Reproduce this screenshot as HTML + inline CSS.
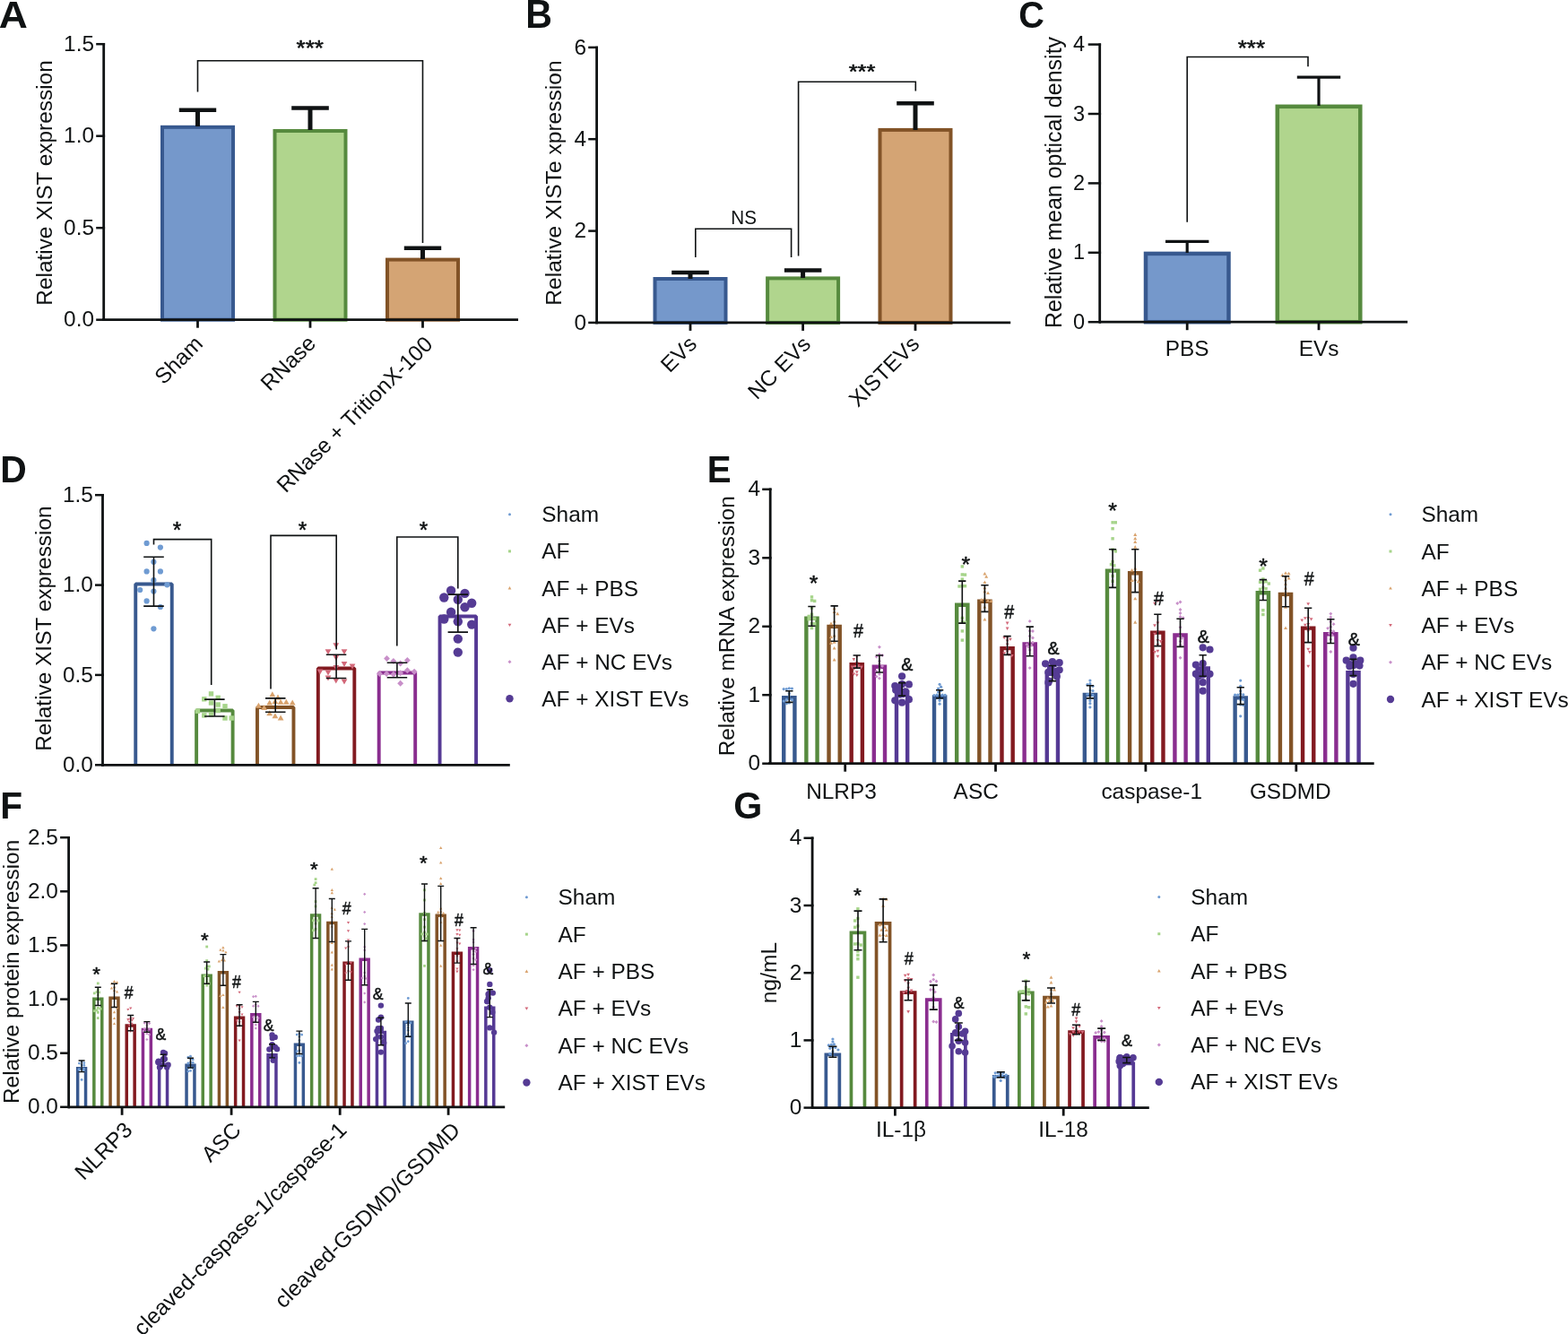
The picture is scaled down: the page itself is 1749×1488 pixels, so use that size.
<!DOCTYPE html>
<html><head><meta charset="utf-8"><style>
html,body{margin:0;padding:0;background:#fff;}
svg{display:block;}
text{font-family:'Liberation Sans', Arial, sans-serif;font-size:24.4px;fill:#0f1213}
</style></head><body>
<svg width="1749" height="1488" viewBox="0 0 1749 1488">
<rect width="1749" height="1488" fill="#fff"/>
<text x="0" y="0" font-weight="bold" style="font-size:43.15px" transform="translate(-1.14 30.80) scale(1.031 1)">A</text>
<line x1="115.7" y1="48.0" x2="115.7" y2="358.1" stroke="#0f1213" stroke-width="2.8"/>
<line x1="107.2" y1="49.2" x2="117.1" y2="49.2" stroke="#0f1213" stroke-width="2.5"/>
<text x="105.0" y="56.8" text-anchor="end">1.5</text>
<line x1="107.2" y1="151.7" x2="117.1" y2="151.7" stroke="#0f1213" stroke-width="2.5"/>
<text x="105.0" y="159.3" text-anchor="end">1.0</text>
<line x1="107.2" y1="254.2" x2="117.1" y2="254.2" stroke="#0f1213" stroke-width="2.5"/>
<text x="105.0" y="261.8" text-anchor="end">0.5</text>
<line x1="107.2" y1="356.7" x2="117.1" y2="356.7" stroke="#0f1213" stroke-width="2.5"/>
<text x="105.0" y="364.3" text-anchor="end">0.0</text>
<text x="57.7" y="204.0" text-anchor="middle" transform="rotate(-90 57.7 204.0)">Relative XIST expression</text>
<rect x="181.0" y="141.8" width="79.0" height="214.9" fill="#7598CB" stroke="#38598F" stroke-width="4"/>
<rect x="306.5" y="146.0" width="79.0" height="210.7" fill="#B0D58D" stroke="#568A3E" stroke-width="4"/>
<rect x="432.0" y="289.6" width="79.0" height="67.1" fill="#D4A474" stroke="#825327" stroke-width="4"/>
<line x1="220.5" y1="141.0" x2="220.5" y2="122.8" stroke="#0f1213" stroke-width="5"/>
<line x1="199.8" y1="122.8" x2="241.2" y2="122.8" stroke="#0f1213" stroke-width="4.5"/>
<line x1="346.0" y1="145.0" x2="346.0" y2="120.4" stroke="#0f1213" stroke-width="5"/>
<line x1="325.2" y1="120.4" x2="366.8" y2="120.4" stroke="#0f1213" stroke-width="4.5"/>
<line x1="471.5" y1="289.0" x2="471.5" y2="276.8" stroke="#0f1213" stroke-width="5"/>
<line x1="450.8" y1="276.8" x2="492.2" y2="276.8" stroke="#0f1213" stroke-width="4.5"/>
<line x1="114.0" y1="356.7" x2="578.0" y2="356.7" stroke="#0f1213" stroke-width="2.8"/>
<line x1="220.5" y1="356.7" x2="220.5" y2="365.7" stroke="#0f1213" stroke-width="2.8"/>
<line x1="346.0" y1="356.7" x2="346.0" y2="365.7" stroke="#0f1213" stroke-width="2.8"/>
<line x1="471.5" y1="356.7" x2="471.5" y2="365.7" stroke="#0f1213" stroke-width="2.8"/>
<path d="M220.5 102.5 V67.7 H471.5 V271.0" stroke="#0f1213" stroke-width="1.6" fill="none"/>
<text x="0" y="0" stroke="#0f1213" stroke-width="0.6" stroke-linejoin="round" style="font-size:23.65px" transform="translate(330.58 62.37) scale(1.103 1)">***</text>
<text x="227.5" y="385.0" text-anchor="end" transform="rotate(-45 227.5 385.0)">Sham</text>
<text x="353.5" y="384.5" text-anchor="end" transform="rotate(-45 353.5 384.5)">RNase</text>
<text x="484.0" y="385.5" text-anchor="end" transform="rotate(-45 484.0 385.5)">RNase + TritionX-100</text>
<text x="0" y="0" font-weight="bold" style="font-size:43.44px" transform="translate(586.23 30.90) scale(0.945 1)">B</text>
<line x1="665.6" y1="51.7" x2="665.6" y2="361.3" stroke="#0f1213" stroke-width="2.8"/>
<line x1="656.2" y1="52.9" x2="667.0" y2="52.9" stroke="#0f1213" stroke-width="2.5"/>
<text x="654.0" y="60.5" text-anchor="end">6</text>
<line x1="656.2" y1="155.2" x2="667.0" y2="155.2" stroke="#0f1213" stroke-width="2.5"/>
<text x="654.0" y="162.8" text-anchor="end">4</text>
<line x1="656.2" y1="257.6" x2="667.0" y2="257.6" stroke="#0f1213" stroke-width="2.5"/>
<text x="654.0" y="265.2" text-anchor="end">2</text>
<line x1="656.2" y1="359.9" x2="667.0" y2="359.9" stroke="#0f1213" stroke-width="2.5"/>
<text x="654.0" y="367.5" text-anchor="end">0</text>
<text x="625.8" y="204.0" text-anchor="middle" style="font-size:24.6px" transform="rotate(-90 625.8 204.0)">Relative XISTe xpression</text>
<rect x="730.5" y="311.0" width="79.0" height="48.9" fill="#7598CB" stroke="#38598F" stroke-width="4"/>
<rect x="856.1" y="310.4" width="79.0" height="49.5" fill="#B0D58D" stroke="#568A3E" stroke-width="4"/>
<rect x="981.5" y="144.9" width="79.0" height="215.0" fill="#D4A474" stroke="#825327" stroke-width="4"/>
<line x1="770.0" y1="311.0" x2="770.0" y2="303.9" stroke="#0f1213" stroke-width="5"/>
<line x1="749.2" y1="303.9" x2="790.8" y2="303.9" stroke="#0f1213" stroke-width="4.5"/>
<line x1="895.6" y1="310.0" x2="895.6" y2="301.6" stroke="#0f1213" stroke-width="5"/>
<line x1="874.9" y1="301.6" x2="916.4" y2="301.6" stroke="#0f1213" stroke-width="4.5"/>
<line x1="1021.0" y1="145.0" x2="1021.0" y2="115.2" stroke="#0f1213" stroke-width="5"/>
<line x1="1000.2" y1="115.2" x2="1041.8" y2="115.2" stroke="#0f1213" stroke-width="4.5"/>
<line x1="664.0" y1="359.9" x2="1127.2" y2="359.9" stroke="#0f1213" stroke-width="2.8"/>
<line x1="770.0" y1="359.9" x2="770.0" y2="368.9" stroke="#0f1213" stroke-width="2.8"/>
<line x1="895.6" y1="359.9" x2="895.6" y2="368.9" stroke="#0f1213" stroke-width="2.8"/>
<line x1="1021.0" y1="359.9" x2="1021.0" y2="368.9" stroke="#0f1213" stroke-width="2.8"/>
<path d="M775.8 287.0 V255.2 H882.6 V287.0" stroke="#0f1213" stroke-width="1.6" fill="none"/>
<text x="0" y="0" style="font-size:22.03px" transform="translate(815.31 249.98) scale(0.936 1)">NS</text>
<path d="M890.6 285.5 V91.3 H1021.3 V101.6" stroke="#0f1213" stroke-width="1.6" fill="none"/>
<text x="0" y="0" stroke="#0f1213" stroke-width="0.6" stroke-linejoin="round" style="font-size:22.79px" transform="translate(946.69 87.38) scale(1.121 1)">***</text>
<text x="778.7" y="385.2" text-anchor="end" transform="rotate(-45 778.7 385.2)">EVs</text>
<text x="905.6" y="385.3" text-anchor="end" transform="rotate(-45 905.6 385.3)">NC EVs</text>
<text x="1027.0" y="385.2" text-anchor="end" transform="rotate(-45 1027.0 385.2)">XISTEVs</text>
<text x="0" y="0" font-weight="bold" style="font-size:43.28px" transform="translate(1136.34 30.80) scale(0.916 1)">C</text>
<line x1="1226.7" y1="48.4" x2="1226.7" y2="360.6" stroke="#0f1213" stroke-width="2.8"/>
<line x1="1213.7" y1="49.6" x2="1228.1" y2="49.6" stroke="#0f1213" stroke-width="2.5"/>
<text x="1210.2" y="57.2" text-anchor="end" style="font-size:23.5px">4</text>
<line x1="1213.7" y1="127.0" x2="1228.1" y2="127.0" stroke="#0f1213" stroke-width="2.5"/>
<text x="1210.2" y="134.6" text-anchor="end" style="font-size:23.5px">3</text>
<line x1="1213.7" y1="204.4" x2="1228.1" y2="204.4" stroke="#0f1213" stroke-width="2.5"/>
<text x="1210.2" y="212.0" text-anchor="end" style="font-size:23.5px">2</text>
<line x1="1213.7" y1="281.8" x2="1228.1" y2="281.8" stroke="#0f1213" stroke-width="2.5"/>
<text x="1210.2" y="289.4" text-anchor="end" style="font-size:23.5px">1</text>
<line x1="1213.7" y1="359.2" x2="1228.1" y2="359.2" stroke="#0f1213" stroke-width="2.5"/>
<text x="1210.2" y="366.8" text-anchor="end" style="font-size:23.5px">0</text>
<text x="1183.5" y="203.5" text-anchor="middle" style="font-size:25px" transform="rotate(-90 1183.5 203.5)">Relative mean optical density</text>
<rect x="1278.0" y="282.9" width="92.5" height="76.3" fill="#7598CB" stroke="#38598F" stroke-width="4.5"/>
<rect x="1424.8" y="118.8" width="92.5" height="240.4" fill="#B0D58D" stroke="#568A3E" stroke-width="4.5"/>
<line x1="1324.2" y1="282.0" x2="1324.2" y2="269.4" stroke="#0f1213" stroke-width="3.2"/>
<line x1="1300.0" y1="269.4" x2="1348.4" y2="269.4" stroke="#0f1213" stroke-width="3.2"/>
<line x1="1471.0" y1="118.0" x2="1471.0" y2="86.1" stroke="#0f1213" stroke-width="3.2"/>
<line x1="1446.8" y1="86.1" x2="1495.2" y2="86.1" stroke="#0f1213" stroke-width="3.2"/>
<line x1="1226.0" y1="359.2" x2="1570.0" y2="359.2" stroke="#0f1213" stroke-width="2.8"/>
<line x1="1324.2" y1="359.2" x2="1324.2" y2="368.2" stroke="#0f1213" stroke-width="2.8"/>
<line x1="1471.0" y1="359.2" x2="1471.0" y2="368.2" stroke="#0f1213" stroke-width="2.8"/>
<path d="M1324.2 247.7 V63.5 H1459.0 V74.2" stroke="#0f1213" stroke-width="1.6" fill="none"/>
<text x="0" y="0" stroke="#0f1213" stroke-width="0.6" stroke-linejoin="round" style="font-size:23.93px" transform="translate(1380.68 61.76) scale(1.090 1)">***</text>
<text x="1324.2" y="397.0" text-anchor="middle">PBS</text>
<text x="1471.0" y="397.0" text-anchor="middle">EVs</text>
<text x="0" y="0" font-weight="bold" style="font-size:42.85px" transform="translate(0.24 537.80) scale(0.954 1)">D</text>
<line x1="114.5" y1="551.0" x2="114.5" y2="854.7" stroke="#0f1213" stroke-width="2.8"/>
<line x1="106.0" y1="552.2" x2="115.9" y2="552.2" stroke="#0f1213" stroke-width="2.5"/>
<text x="103.8" y="559.8" text-anchor="end">1.5</text>
<line x1="106.0" y1="652.6" x2="115.9" y2="652.6" stroke="#0f1213" stroke-width="2.5"/>
<text x="103.8" y="660.2" text-anchor="end">1.0</text>
<line x1="106.0" y1="752.9" x2="115.9" y2="752.9" stroke="#0f1213" stroke-width="2.5"/>
<text x="103.8" y="760.5" text-anchor="end">0.5</text>
<line x1="106.0" y1="853.3" x2="115.9" y2="853.3" stroke="#0f1213" stroke-width="2.5"/>
<text x="103.8" y="860.9" text-anchor="end">0.0</text>
<text x="57.4" y="701.1" text-anchor="middle" transform="rotate(-90 57.4 701.1)">Relative XIST expression</text>
<path d="M151.25 853.3V651.45H191.75V853.3" stroke="#38598F" stroke-width="3.9" fill="none" stroke-linejoin="bevel"/>
<path d="M219.11 853.3V792.55H259.61V853.3" stroke="#568A3E" stroke-width="3.9" fill="none" stroke-linejoin="bevel"/>
<path d="M286.97 853.3V788.95H327.47V853.3" stroke="#825327" stroke-width="3.9" fill="none" stroke-linejoin="bevel"/>
<path d="M354.83 853.3V745.45H395.33V853.3" stroke="#821A20" stroke-width="3.9" fill="none" stroke-linejoin="bevel"/>
<path d="M422.69 853.3V750.45H463.19V853.3" stroke="#8A2D8F" stroke-width="3.9" fill="none" stroke-linejoin="bevel"/>
<path d="M490.55 853.3V687.45H531.05V853.3" stroke="#553994" stroke-width="3.9" fill="none" stroke-linejoin="bevel"/>
<circle cx="163.6" cy="605.9" r="3.10" fill="#6F9BD2"/>
<circle cx="178.9" cy="610.6" r="3.10" fill="#6F9BD2"/>
<circle cx="171.4" cy="626.8" r="3.10" fill="#6F9BD2"/>
<circle cx="163.6" cy="637.4" r="3.10" fill="#6F9BD2"/>
<circle cx="178.9" cy="637.4" r="3.10" fill="#6F9BD2"/>
<circle cx="171.4" cy="647.2" r="3.10" fill="#6F9BD2"/>
<circle cx="186.4" cy="652.3" r="3.10" fill="#6F9BD2"/>
<circle cx="156.2" cy="658.0" r="3.10" fill="#6F9BD2"/>
<circle cx="171.4" cy="659.6" r="3.10" fill="#6F9BD2"/>
<circle cx="163.6" cy="670.4" r="3.10" fill="#6F9BD2"/>
<circle cx="178.9" cy="677.0" r="3.10" fill="#6F9BD2"/>
<circle cx="171.4" cy="701.3" r="3.10" fill="#6F9BD2"/>
<rect x="232.8" y="771.2" width="5.4" height="5.4" fill="#A6D48A"/>
<rect x="225.1" y="777.1" width="5.4" height="5.4" fill="#A6D48A"/>
<rect x="240.5" y="775.6" width="5.4" height="5.4" fill="#A6D48A"/>
<rect x="232.8" y="781.3" width="5.4" height="5.4" fill="#A6D48A"/>
<rect x="240.5" y="783.3" width="5.4" height="5.4" fill="#A6D48A"/>
<rect x="248.3" y="785.1" width="5.4" height="5.4" fill="#A6D48A"/>
<rect x="217.7" y="790.5" width="5.4" height="5.4" fill="#A6D48A"/>
<rect x="240.5" y="789.8" width="5.4" height="5.4" fill="#A6D48A"/>
<rect x="225.1" y="795.2" width="5.4" height="5.4" fill="#A6D48A"/>
<rect x="232.8" y="794.4" width="5.4" height="5.4" fill="#A6D48A"/>
<rect x="248.3" y="798.3" width="5.4" height="5.4" fill="#A6D48A"/>
<rect x="255.5" y="798.3" width="5.4" height="5.4" fill="#A6D48A"/>
<path d="M303.8 771.3L307.2 777.3L300.4 777.3Z" fill="#D9A36E"/>
<path d="M310.0 774.4L313.4 780.4L306.6 780.4Z" fill="#D9A36E"/>
<path d="M300.7 780.6L304.1 786.6L297.3 786.6Z" fill="#D9A36E"/>
<path d="M306.9 779.0L310.3 785.0L303.5 785.0Z" fill="#D9A36E"/>
<path d="M313.1 779.8L316.5 785.8L309.7 785.8Z" fill="#D9A36E"/>
<path d="M319.3 779.8L322.7 785.8L315.9 785.8Z" fill="#D9A36E"/>
<path d="M326.2 780.6L329.6 786.6L322.8 786.6Z" fill="#D9A36E"/>
<path d="M288.4 783.7L291.8 789.7L285.0 789.7Z" fill="#D9A36E"/>
<path d="M294.6 786.0L298.0 792.0L291.2 792.0Z" fill="#D9A36E"/>
<path d="M300.7 792.2L304.1 798.2L297.3 798.2Z" fill="#D9A36E"/>
<path d="M306.9 795.2L310.3 801.2L303.5 801.2Z" fill="#D9A36E"/>
<path d="M313.1 797.6L316.5 803.6L309.7 803.6Z" fill="#D9A36E"/>
<path d="M374.8 723.2L378.2 717.2L371.4 717.2Z" fill="#D3697A"/>
<path d="M366.0 730.2L369.4 724.2L362.6 724.2Z" fill="#D3697A"/>
<path d="M384.0 730.2L387.4 724.2L380.6 724.2Z" fill="#D3697A"/>
<path d="M374.8 737.1L378.2 731.1L371.4 731.1Z" fill="#D3697A"/>
<path d="M384.0 744.1L387.4 738.1L380.6 738.1Z" fill="#D3697A"/>
<path d="M393.0 746.4L396.4 740.4L389.6 740.4Z" fill="#D3697A"/>
<path d="M357.0 752.6L360.4 746.6L353.6 746.6Z" fill="#D3697A"/>
<path d="M366.0 753.4L369.4 747.4L362.6 747.4Z" fill="#D3697A"/>
<path d="M374.8 748.0L378.2 742.0L371.4 742.0Z" fill="#D3697A"/>
<path d="M366.0 759.6L369.4 753.6L362.6 753.6Z" fill="#D3697A"/>
<path d="M374.8 762.6L378.2 756.6L371.4 756.6Z" fill="#D3697A"/>
<path d="M384.0 763.4L387.4 757.4L380.6 757.4Z" fill="#D3697A"/>
<path d="M431.5 731.0L434.9 734.5L431.5 738.0L428.1 734.5Z" fill="#C88FC9"/>
<path d="M438.9 734.1L442.3 737.6L438.9 741.1L435.4 737.6Z" fill="#C88FC9"/>
<path d="M446.6 736.5L450.1 740.0L446.6 743.5L443.2 740.0Z" fill="#C88FC9"/>
<path d="M454.4 733.0L457.8 736.5L454.4 740.0L450.9 736.5Z" fill="#C88FC9"/>
<path d="M423.5 748.0L426.9 751.5L423.5 755.0L420.1 751.5Z" fill="#C88FC9"/>
<path d="M431.2 748.0L434.6 751.5L431.2 755.0L427.8 751.5Z" fill="#C88FC9"/>
<path d="M438.9 748.8L442.3 752.3L438.9 755.8L435.4 752.3Z" fill="#C88FC9"/>
<path d="M446.6 747.2L450.1 750.7L446.6 754.2L443.2 750.7Z" fill="#C88FC9"/>
<path d="M454.4 744.2L457.8 747.7L454.4 751.2L450.9 747.7Z" fill="#C88FC9"/>
<path d="M462.1 745.8L465.6 749.2L462.1 752.7L458.7 749.2Z" fill="#C88FC9"/>
<path d="M446.6 758.8L450.1 762.3L446.6 765.8L443.2 762.3Z" fill="#C88FC9"/>
<circle cx="503.1" cy="658.8" r="5.20" fill="#553B94"/>
<circle cx="518.5" cy="661.9" r="5.20" fill="#553B94"/>
<circle cx="495.3" cy="666.5" r="5.20" fill="#553B94"/>
<circle cx="510.8" cy="668.8" r="5.20" fill="#553B94"/>
<circle cx="526.2" cy="672.7" r="5.20" fill="#553B94"/>
<circle cx="518.5" cy="677.3" r="5.20" fill="#553B94"/>
<circle cx="503.1" cy="682.7" r="5.20" fill="#553B94"/>
<circle cx="495.3" cy="690.5" r="5.20" fill="#553B94"/>
<circle cx="510.8" cy="693.2" r="5.20" fill="#553B94"/>
<circle cx="526.2" cy="696.6" r="5.20" fill="#553B94"/>
<circle cx="510.8" cy="712.6" r="5.20" fill="#553B94"/>
<circle cx="510.8" cy="727.6" r="5.20" fill="#553B94"/>
<path d="M171.5 621.2V676.1M160.2 621.2H182.8M160.2 676.1H182.8" stroke="#0f1213" stroke-width="1.6" fill="none"/>
<path d="M239.4 780.1V799.0M228.1 780.1H250.6M228.1 799.0H250.6" stroke="#0f1213" stroke-width="1.6" fill="none"/>
<path d="M307.2 778.9V794.3M296.0 778.9H318.5M296.0 794.3H318.5" stroke="#0f1213" stroke-width="1.6" fill="none"/>
<path d="M375.1 730.2V756.5M363.8 730.2H386.3M363.8 756.5H386.3" stroke="#0f1213" stroke-width="1.6" fill="none"/>
<path d="M442.9 739.2V755.8M431.7 739.2H454.2M431.7 755.8H454.2" stroke="#0f1213" stroke-width="1.6" fill="none"/>
<path d="M510.8 663.1V705.1M499.6 663.1H522.0M499.6 705.1H522.0" stroke="#0f1213" stroke-width="1.6" fill="none"/>
<line x1="113.0" y1="853.3" x2="568.8" y2="853.3" stroke="#0f1213" stroke-width="2.8"/>
<path d="M171.5 607.5 V601.6 H235.7 V764.0" stroke="#0f1213" stroke-width="1.6" fill="none"/>
<path d="M302.0 768.5 V597.4 H375.2 V724.5" stroke="#0f1213" stroke-width="1.6" fill="none"/>
<path d="M442.8 720.6 V599.0 H510.8 V656.5" stroke="#0f1213" stroke-width="1.6" fill="none"/>
<text x="0" y="0" stroke="#0f1213" stroke-width="0.5" stroke-linejoin="round" style="font-size:25.36px" transform="translate(192.66 599.60) scale(0.961 1)">*</text>
<text x="0" y="0" stroke="#0f1213" stroke-width="0.5" stroke-linejoin="round" style="font-size:25.36px" transform="translate(332.66 599.60) scale(0.961 1)">*</text>
<text x="0" y="0" stroke="#0f1213" stroke-width="0.5" stroke-linejoin="round" style="font-size:25.36px" transform="translate(467.66 599.60) scale(0.961 1)">*</text>
<circle cx="568.5" cy="573.8" r="1.50" fill="#6F9BD2"/>
<text x="604.3" y="582.3">Sham</text>
<rect x="567.0" y="613.4" width="3.0" height="3.0" fill="#A6D48A"/>
<text x="604.3" y="623.4">AF</text>
<path d="M568.5 654.1L570.4 657.4L566.6 657.4Z" fill="#D9A36E"/>
<text x="604.3" y="664.5">AF + PBS</text>
<path d="M568.5 699.0L570.4 695.7L566.6 695.7Z" fill="#D3697A"/>
<text x="604.3" y="705.6">AF + EVs</text>
<path d="M568.5 736.2L570.5 738.2L568.5 740.2L566.5 738.2Z" fill="#C88FC9"/>
<text x="604.3" y="746.7">AF + NC EVs</text>
<circle cx="568.5" cy="779.3" r="4.20" fill="#553B94"/>
<text x="604.3" y="787.8">AF + XIST EVs</text>
<text x="0" y="0" font-weight="bold" style="font-size:42.85px" transform="translate(788.68 538.00) scale(0.941 1)">E</text>
<line x1="859.2" y1="544.6" x2="859.2" y2="853.1" stroke="#0f1213" stroke-width="2.8"/>
<line x1="850.2" y1="545.8" x2="860.6" y2="545.8" stroke="#0f1213" stroke-width="2.5"/>
<text x="848.0" y="553.4" text-anchor="end">4</text>
<line x1="850.2" y1="622.3" x2="860.6" y2="622.3" stroke="#0f1213" stroke-width="2.5"/>
<text x="848.0" y="629.9" text-anchor="end">3</text>
<line x1="850.2" y1="698.8" x2="860.6" y2="698.8" stroke="#0f1213" stroke-width="2.5"/>
<text x="848.0" y="706.4" text-anchor="end">2</text>
<line x1="850.2" y1="775.2" x2="860.6" y2="775.2" stroke="#0f1213" stroke-width="2.5"/>
<text x="848.0" y="782.8" text-anchor="end">1</text>
<line x1="850.2" y1="851.7" x2="860.6" y2="851.7" stroke="#0f1213" stroke-width="2.5"/>
<text x="848.0" y="859.3" text-anchor="end">0</text>
<text x="819.4" y="698.3" text-anchor="middle" transform="rotate(-90 819.4 698.3)">Relative mRNA expression</text>
<path d="M874.23 851.7V778.30H886.42V851.7" stroke="#38598F" stroke-width="4.4" fill="none" stroke-linejoin="miter"/>
<path d="M899.38 851.7V689.60H911.57V851.7" stroke="#568A3E" stroke-width="4.4" fill="none" stroke-linejoin="miter"/>
<path d="M924.53 851.7V698.90H936.72V851.7" stroke="#825327" stroke-width="4.4" fill="none" stroke-linejoin="miter"/>
<path d="M949.68 851.7V741.20H961.88V851.7" stroke="#821A20" stroke-width="4.4" fill="none" stroke-linejoin="miter"/>
<path d="M974.83 851.7V743.70H987.02V851.7" stroke="#8A2D8F" stroke-width="4.4" fill="none" stroke-linejoin="miter"/>
<path d="M999.98 851.7V771.90H1012.17V851.7" stroke="#553994" stroke-width="4.4" fill="none" stroke-linejoin="miter"/>
<path d="M1042.03 851.7V777.50H1054.22V851.7" stroke="#38598F" stroke-width="4.4" fill="none" stroke-linejoin="miter"/>
<path d="M1067.18 851.7V674.70H1079.38V851.7" stroke="#568A3E" stroke-width="4.4" fill="none" stroke-linejoin="miter"/>
<path d="M1092.33 851.7V670.70H1104.52V851.7" stroke="#825327" stroke-width="4.4" fill="none" stroke-linejoin="miter"/>
<path d="M1117.48 851.7V723.10H1129.67V851.7" stroke="#821A20" stroke-width="4.4" fill="none" stroke-linejoin="miter"/>
<path d="M1142.62 851.7V718.50H1154.82V851.7" stroke="#8A2D8F" stroke-width="4.4" fill="none" stroke-linejoin="miter"/>
<path d="M1167.78 851.7V751.70H1179.97V851.7" stroke="#553994" stroke-width="4.4" fill="none" stroke-linejoin="miter"/>
<path d="M1209.83 851.7V774.90H1222.02V851.7" stroke="#38598F" stroke-width="4.4" fill="none" stroke-linejoin="miter"/>
<path d="M1234.98 851.7V636.60H1247.17V851.7" stroke="#568A3E" stroke-width="4.4" fill="none" stroke-linejoin="miter"/>
<path d="M1260.12 851.7V639.30H1272.32V851.7" stroke="#825327" stroke-width="4.4" fill="none" stroke-linejoin="miter"/>
<path d="M1285.28 851.7V705.60H1297.47V851.7" stroke="#821A20" stroke-width="4.4" fill="none" stroke-linejoin="miter"/>
<path d="M1310.42 851.7V708.50H1322.62V851.7" stroke="#8A2D8F" stroke-width="4.4" fill="none" stroke-linejoin="miter"/>
<path d="M1335.58 851.7V745.50H1347.77V851.7" stroke="#553994" stroke-width="4.4" fill="none" stroke-linejoin="miter"/>
<path d="M1377.62 851.7V778.40H1389.82V851.7" stroke="#38598F" stroke-width="4.4" fill="none" stroke-linejoin="miter"/>
<path d="M1402.78 851.7V661.30H1414.97V851.7" stroke="#568A3E" stroke-width="4.4" fill="none" stroke-linejoin="miter"/>
<path d="M1427.92 851.7V662.90H1440.12V851.7" stroke="#825327" stroke-width="4.4" fill="none" stroke-linejoin="miter"/>
<path d="M1453.08 851.7V700.60H1465.27V851.7" stroke="#821A20" stroke-width="4.4" fill="none" stroke-linejoin="miter"/>
<path d="M1478.22 851.7V707.20H1490.42V851.7" stroke="#8A2D8F" stroke-width="4.4" fill="none" stroke-linejoin="miter"/>
<path d="M1503.38 851.7V750.20H1515.57V851.7" stroke="#553994" stroke-width="4.4" fill="none" stroke-linejoin="miter"/>
<circle cx="880.3" cy="767.8" r="1.60" fill="#6F9BD2"/>
<circle cx="883.4" cy="768.0" r="1.60" fill="#6F9BD2"/>
<circle cx="877.3" cy="768.5" r="1.60" fill="#6F9BD2"/>
<circle cx="874.2" cy="768.6" r="1.60" fill="#6F9BD2"/>
<circle cx="880.3" cy="773.5" r="1.60" fill="#6F9BD2"/>
<circle cx="880.3" cy="776.6" r="1.60" fill="#6F9BD2"/>
<circle cx="880.3" cy="779.7" r="1.60" fill="#6F9BD2"/>
<circle cx="883.4" cy="780.4" r="1.60" fill="#6F9BD2"/>
<circle cx="877.3" cy="780.4" r="1.60" fill="#6F9BD2"/>
<circle cx="874.2" cy="782.0" r="1.60" fill="#6F9BD2"/>
<circle cx="880.3" cy="784.0" r="1.60" fill="#6F9BD2"/>
<circle cx="877.3" cy="784.7" r="1.60" fill="#6F9BD2"/>
<rect x="903.8" y="664.2" width="3.4" height="3.4" fill="#A6D48A"/>
<rect x="903.8" y="668.0" width="3.4" height="3.4" fill="#A6D48A"/>
<rect x="907.0" y="668.7" width="3.4" height="3.4" fill="#A6D48A"/>
<rect x="903.8" y="676.4" width="3.4" height="3.4" fill="#A6D48A"/>
<rect x="903.8" y="683.6" width="3.4" height="3.4" fill="#A6D48A"/>
<rect x="900.5" y="685.7" width="3.4" height="3.4" fill="#A6D48A"/>
<rect x="903.8" y="688.2" width="3.4" height="3.4" fill="#A6D48A"/>
<rect x="907.0" y="688.3" width="3.4" height="3.4" fill="#A6D48A"/>
<rect x="900.5" y="689.0" width="3.4" height="3.4" fill="#A6D48A"/>
<rect x="903.8" y="694.0" width="3.4" height="3.4" fill="#A6D48A"/>
<rect x="907.0" y="694.1" width="3.4" height="3.4" fill="#A6D48A"/>
<rect x="903.8" y="698.9" width="3.4" height="3.4" fill="#A6D48A"/>
<path d="M930.6 676.7L932.6 680.2L928.6 680.2Z" fill="#D9A36E"/>
<path d="M930.6 680.5L932.6 684.1L928.6 684.1Z" fill="#D9A36E"/>
<path d="M934.2 682.6L936.2 686.2L932.2 686.2Z" fill="#D9A36E"/>
<path d="M930.6 690.9L932.6 694.4L928.6 694.4Z" fill="#D9A36E"/>
<path d="M927.0 693.6L929.0 697.1L925.0 697.1Z" fill="#D9A36E"/>
<path d="M930.6 696.6L932.6 700.1L928.6 700.1Z" fill="#D9A36E"/>
<path d="M930.6 707.0L932.6 710.6L928.6 710.6Z" fill="#D9A36E"/>
<path d="M927.0 708.4L929.0 711.9L925.0 711.9Z" fill="#D9A36E"/>
<path d="M930.6 714.1L932.6 717.7L928.6 717.7Z" fill="#D9A36E"/>
<path d="M927.0 715.1L929.0 718.7L925.0 718.7Z" fill="#D9A36E"/>
<path d="M930.6 720.9L932.6 724.4L928.6 724.4Z" fill="#D9A36E"/>
<path d="M930.6 734.0L932.6 737.5L928.6 737.5Z" fill="#D9A36E"/>
<path d="M955.8 734.6L957.7 731.2L953.9 731.2Z" fill="#D3697A"/>
<path d="M952.4 737.4L954.2 734.1L950.5 734.1Z" fill="#D3697A"/>
<path d="M955.8 741.4L957.7 738.0L953.9 738.0Z" fill="#D3697A"/>
<path d="M957.5 744.5L959.4 741.2L955.6 741.2Z" fill="#D3697A"/>
<path d="M954.1 745.4L956.0 742.0L952.2 742.0Z" fill="#D3697A"/>
<path d="M960.9 745.9L962.8 742.6L959.0 742.6Z" fill="#D3697A"/>
<path d="M950.6 746.0L952.5 742.6L948.8 742.6Z" fill="#D3697A"/>
<path d="M959.8 747.5L961.6 744.2L957.9 744.2Z" fill="#D3697A"/>
<path d="M952.8 748.1L954.7 744.8L950.9 744.8Z" fill="#D3697A"/>
<path d="M955.8 751.7L957.7 748.3L953.9 748.3Z" fill="#D3697A"/>
<path d="M952.4 753.7L954.2 750.4L950.5 750.4Z" fill="#D3697A"/>
<path d="M955.8 755.1L957.7 751.8L953.9 751.8Z" fill="#D3697A"/>
<path d="M980.9 719.8L982.9 721.8L980.9 723.7L979.0 721.8Z" fill="#C88FC9"/>
<path d="M980.9 728.1L982.9 730.0L980.9 732.0L979.0 730.0Z" fill="#C88FC9"/>
<path d="M984.2 729.1L986.1 731.0L984.2 733.0L982.2 731.0Z" fill="#C88FC9"/>
<path d="M977.7 730.6L979.7 732.6L977.7 734.5L975.7 732.6Z" fill="#C88FC9"/>
<path d="M980.9 735.5L982.9 737.4L980.9 739.4L979.0 737.4Z" fill="#C88FC9"/>
<path d="M980.9 739.2L982.9 741.1L980.9 743.1L979.0 741.1Z" fill="#C88FC9"/>
<path d="M984.2 741.0L986.1 743.0L984.2 744.9L982.2 743.0Z" fill="#C88FC9"/>
<path d="M980.9 744.1L982.9 746.0L980.9 748.0L979.0 746.0Z" fill="#C88FC9"/>
<path d="M977.7 746.8L979.7 748.8L977.7 750.7L975.7 748.8Z" fill="#C88FC9"/>
<path d="M980.9 750.2L982.9 752.1L980.9 754.1L979.0 752.1Z" fill="#C88FC9"/>
<path d="M977.7 752.7L979.7 754.7L977.7 756.6L975.7 754.7Z" fill="#C88FC9"/>
<path d="M980.9 754.7L982.9 756.7L980.9 758.6L979.0 756.7Z" fill="#C88FC9"/>
<circle cx="1006.1" cy="754.3" r="4.10" fill="#553B94"/>
<circle cx="1006.1" cy="763.2" r="4.10" fill="#553B94"/>
<circle cx="1013.9" cy="763.4" r="4.10" fill="#553B94"/>
<circle cx="998.3" cy="765.1" r="4.10" fill="#553B94"/>
<circle cx="1002.5" cy="768.2" r="4.10" fill="#553B94"/>
<circle cx="999.2" cy="769.8" r="4.10" fill="#553B94"/>
<circle cx="1010.0" cy="771.3" r="4.10" fill="#553B94"/>
<circle cx="1007.2" cy="774.1" r="4.10" fill="#553B94"/>
<circle cx="1003.9" cy="774.6" r="4.10" fill="#553B94"/>
<circle cx="1013.9" cy="780.2" r="4.10" fill="#553B94"/>
<circle cx="998.3" cy="781.3" r="4.10" fill="#553B94"/>
<circle cx="1006.1" cy="783.7" r="4.10" fill="#553B94"/>
<circle cx="1048.1" cy="763.3" r="1.60" fill="#6F9BD2"/>
<circle cx="1049.6" cy="766.2" r="1.60" fill="#6F9BD2"/>
<circle cx="1046.6" cy="768.1" r="1.60" fill="#6F9BD2"/>
<circle cx="1049.6" cy="770.4" r="1.60" fill="#6F9BD2"/>
<circle cx="1046.6" cy="771.9" r="1.60" fill="#6F9BD2"/>
<circle cx="1048.1" cy="775.1" r="1.60" fill="#6F9BD2"/>
<circle cx="1051.2" cy="775.2" r="1.60" fill="#6F9BD2"/>
<circle cx="1045.1" cy="775.2" r="1.60" fill="#6F9BD2"/>
<circle cx="1054.2" cy="775.3" r="1.60" fill="#6F9BD2"/>
<circle cx="1042.0" cy="775.5" r="1.60" fill="#6F9BD2"/>
<circle cx="1048.1" cy="781.3" r="1.60" fill="#6F9BD2"/>
<circle cx="1048.1" cy="785.2" r="1.60" fill="#6F9BD2"/>
<rect x="1071.6" y="630.2" width="3.4" height="3.4" fill="#A6D48A"/>
<rect x="1071.6" y="639.2" width="3.4" height="3.4" fill="#A6D48A"/>
<rect x="1074.8" y="639.4" width="3.4" height="3.4" fill="#A6D48A"/>
<rect x="1071.6" y="644.4" width="3.4" height="3.4" fill="#A6D48A"/>
<rect x="1071.6" y="652.0" width="3.4" height="3.4" fill="#A6D48A"/>
<rect x="1074.8" y="652.0" width="3.4" height="3.4" fill="#A6D48A"/>
<rect x="1068.3" y="652.3" width="3.4" height="3.4" fill="#A6D48A"/>
<rect x="1071.6" y="687.7" width="3.4" height="3.4" fill="#A6D48A"/>
<rect x="1071.6" y="692.0" width="3.4" height="3.4" fill="#A6D48A"/>
<rect x="1074.8" y="692.6" width="3.4" height="3.4" fill="#A6D48A"/>
<rect x="1071.6" y="702.2" width="3.4" height="3.4" fill="#A6D48A"/>
<rect x="1071.6" y="712.4" width="3.4" height="3.4" fill="#A6D48A"/>
<path d="M1098.4 637.9L1100.4 641.4L1096.4 641.4Z" fill="#D9A36E"/>
<path d="M1100.2 641.3L1102.2 644.8L1098.2 644.8Z" fill="#D9A36E"/>
<path d="M1098.4 647.4L1100.4 650.9L1096.4 650.9Z" fill="#D9A36E"/>
<path d="M1098.4 653.8L1100.4 657.3L1096.4 657.3Z" fill="#D9A36E"/>
<path d="M1098.4 657.8L1100.4 661.3L1096.4 661.3Z" fill="#D9A36E"/>
<path d="M1102.0 659.4L1104.0 663.0L1100.0 663.0Z" fill="#D9A36E"/>
<path d="M1098.4 665.5L1100.4 669.0L1096.4 669.0Z" fill="#D9A36E"/>
<path d="M1094.8 667.0L1096.8 670.5L1092.8 670.5Z" fill="#D9A36E"/>
<path d="M1102.0 668.0L1104.0 671.5L1100.0 671.5Z" fill="#D9A36E"/>
<path d="M1105.6 668.5L1107.6 672.0L1103.7 672.0Z" fill="#D9A36E"/>
<path d="M1098.4 675.1L1100.4 678.6L1096.4 678.6Z" fill="#D9A36E"/>
<path d="M1098.4 688.9L1100.4 692.4L1096.4 692.4Z" fill="#D9A36E"/>
<path d="M1123.6 696.9L1125.5 693.6L1121.7 693.6Z" fill="#D3697A"/>
<path d="M1123.6 702.9L1125.5 699.6L1121.7 699.6Z" fill="#D3697A"/>
<path d="M1123.6 713.1L1125.5 709.8L1121.7 709.8Z" fill="#D3697A"/>
<path d="M1120.2 713.2L1122.0 709.9L1118.3 709.9Z" fill="#D3697A"/>
<path d="M1127.0 715.1L1128.9 711.8L1125.1 711.8Z" fill="#D3697A"/>
<path d="M1123.6 716.9L1125.5 713.6L1121.7 713.6Z" fill="#D3697A"/>
<path d="M1123.6 720.7L1125.5 717.4L1121.7 717.4Z" fill="#D3697A"/>
<path d="M1123.6 724.7L1125.5 721.4L1121.7 721.4Z" fill="#D3697A"/>
<path d="M1123.6 728.8L1125.5 725.4L1121.7 725.4Z" fill="#D3697A"/>
<path d="M1120.2 730.7L1122.0 727.3L1118.3 727.3Z" fill="#D3697A"/>
<path d="M1125.3 732.0L1127.2 728.7L1123.4 728.7Z" fill="#D3697A"/>
<path d="M1128.7 733.5L1130.6 730.1L1126.8 730.1Z" fill="#D3697A"/>
<path d="M1148.7 690.9L1150.7 692.9L1148.7 694.8L1146.8 692.9Z" fill="#C88FC9"/>
<path d="M1148.7 701.9L1150.7 703.8L1148.7 705.8L1146.8 703.8Z" fill="#C88FC9"/>
<path d="M1152.0 702.0L1153.9 703.9L1152.0 705.9L1150.0 703.9Z" fill="#C88FC9"/>
<path d="M1148.7 707.5L1150.7 709.4L1148.7 711.4L1146.8 709.4Z" fill="#C88FC9"/>
<path d="M1152.0 709.6L1153.9 711.6L1152.0 713.5L1150.0 711.6Z" fill="#C88FC9"/>
<path d="M1148.7 714.6L1150.7 716.6L1148.7 718.5L1146.8 716.6Z" fill="#C88FC9"/>
<path d="M1152.0 714.7L1153.9 716.6L1152.0 718.6L1150.0 716.6Z" fill="#C88FC9"/>
<path d="M1145.5 717.0L1147.4 719.0L1145.5 720.9L1143.5 719.0Z" fill="#C88FC9"/>
<path d="M1150.3 717.8L1152.3 719.8L1150.3 721.7L1148.4 719.8Z" fill="#C88FC9"/>
<path d="M1147.1 719.8L1149.1 721.8L1147.1 723.8L1145.2 721.8Z" fill="#C88FC9"/>
<path d="M1148.7 723.1L1150.7 725.1L1148.7 727.1L1146.8 725.1Z" fill="#C88FC9"/>
<path d="M1148.7 743.2L1150.7 745.1L1148.7 747.1L1146.8 745.1Z" fill="#C88FC9"/>
<circle cx="1173.9" cy="738.0" r="4.10" fill="#553B94"/>
<circle cx="1181.7" cy="739.2" r="4.10" fill="#553B94"/>
<circle cx="1166.1" cy="740.3" r="4.10" fill="#553B94"/>
<circle cx="1175.8" cy="740.6" r="4.10" fill="#553B94"/>
<circle cx="1172.0" cy="745.3" r="4.10" fill="#553B94"/>
<circle cx="1181.7" cy="747.3" r="4.10" fill="#553B94"/>
<circle cx="1178.5" cy="748.8" r="4.10" fill="#553B94"/>
<circle cx="1173.3" cy="749.7" r="4.10" fill="#553B94"/>
<circle cx="1169.3" cy="749.8" r="4.10" fill="#553B94"/>
<circle cx="1178.8" cy="754.4" r="4.10" fill="#553B94"/>
<circle cx="1170.0" cy="759.6" r="4.10" fill="#553B94"/>
<circle cx="1169.4" cy="761.4" r="4.10" fill="#553B94"/>
<circle cx="1215.9" cy="759.1" r="1.60" fill="#6F9BD2"/>
<circle cx="1215.9" cy="762.7" r="1.60" fill="#6F9BD2"/>
<circle cx="1212.9" cy="763.7" r="1.60" fill="#6F9BD2"/>
<circle cx="1219.0" cy="765.3" r="1.60" fill="#6F9BD2"/>
<circle cx="1215.9" cy="770.0" r="1.60" fill="#6F9BD2"/>
<circle cx="1219.0" cy="770.5" r="1.60" fill="#6F9BD2"/>
<circle cx="1215.9" cy="773.6" r="1.60" fill="#6F9BD2"/>
<circle cx="1212.9" cy="774.5" r="1.60" fill="#6F9BD2"/>
<circle cx="1219.0" cy="775.4" r="1.60" fill="#6F9BD2"/>
<circle cx="1215.9" cy="781.4" r="1.60" fill="#6F9BD2"/>
<circle cx="1215.9" cy="784.7" r="1.60" fill="#6F9BD2"/>
<circle cx="1215.9" cy="788.8" r="1.60" fill="#6F9BD2"/>
<rect x="1239.4" y="581.1" width="3.4" height="3.4" fill="#A6D48A"/>
<rect x="1242.6" y="581.1" width="3.4" height="3.4" fill="#A6D48A"/>
<rect x="1239.4" y="588.0" width="3.4" height="3.4" fill="#A6D48A"/>
<rect x="1239.4" y="599.1" width="3.4" height="3.4" fill="#A6D48A"/>
<rect x="1239.4" y="611.3" width="3.4" height="3.4" fill="#A6D48A"/>
<rect x="1242.6" y="613.2" width="3.4" height="3.4" fill="#A6D48A"/>
<rect x="1239.4" y="624.9" width="3.4" height="3.4" fill="#A6D48A"/>
<rect x="1237.8" y="627.9" width="3.4" height="3.4" fill="#A6D48A"/>
<rect x="1241.0" y="629.1" width="3.4" height="3.4" fill="#A6D48A"/>
<rect x="1239.4" y="635.0" width="3.4" height="3.4" fill="#A6D48A"/>
<rect x="1239.4" y="640.9" width="3.4" height="3.4" fill="#A6D48A"/>
<rect x="1239.4" y="646.6" width="3.4" height="3.4" fill="#A6D48A"/>
<path d="M1266.2 594.3L1268.2 597.9L1264.2 597.9Z" fill="#D9A36E"/>
<path d="M1266.2 598.7L1268.2 602.3L1264.2 602.3Z" fill="#D9A36E"/>
<path d="M1266.2 602.5L1268.2 606.0L1264.2 606.0Z" fill="#D9A36E"/>
<path d="M1266.2 608.1L1268.2 611.7L1264.2 611.7Z" fill="#D9A36E"/>
<path d="M1266.2 632.0L1268.2 635.5L1264.2 635.5Z" fill="#D9A36E"/>
<path d="M1262.6 633.9L1264.6 637.5L1260.6 637.5Z" fill="#D9A36E"/>
<path d="M1266.2 636.9L1268.2 640.4L1264.2 640.4Z" fill="#D9A36E"/>
<path d="M1266.2 644.6L1268.2 648.1L1264.2 648.1Z" fill="#D9A36E"/>
<path d="M1262.6 645.3L1264.6 648.9L1260.6 648.9Z" fill="#D9A36E"/>
<path d="M1269.8 646.7L1271.8 650.2L1267.8 650.2Z" fill="#D9A36E"/>
<path d="M1266.2 665.8L1268.2 669.3L1264.2 669.3Z" fill="#D9A36E"/>
<path d="M1266.2 692.1L1268.2 695.7L1264.2 695.7Z" fill="#D9A36E"/>
<path d="M1291.4 672.2L1293.3 668.9L1289.5 668.9Z" fill="#D3697A"/>
<path d="M1288.0 675.0L1289.8 671.7L1286.1 671.7Z" fill="#D3697A"/>
<path d="M1291.4 696.9L1293.3 693.5L1289.5 693.5Z" fill="#D3697A"/>
<path d="M1288.0 699.7L1289.8 696.3L1286.1 696.3Z" fill="#D3697A"/>
<path d="M1291.4 706.7L1293.3 703.3L1289.5 703.3Z" fill="#D3697A"/>
<path d="M1288.0 709.1L1289.8 705.7L1286.1 705.7Z" fill="#D3697A"/>
<path d="M1291.4 716.4L1293.3 713.1L1289.5 713.1Z" fill="#D3697A"/>
<path d="M1294.8 717.5L1296.7 714.1L1292.9 714.1Z" fill="#D3697A"/>
<path d="M1291.4 721.2L1293.3 717.9L1289.5 717.9Z" fill="#D3697A"/>
<path d="M1291.4 728.0L1293.3 724.7L1289.5 724.7Z" fill="#D3697A"/>
<path d="M1288.0 729.4L1289.8 726.0L1286.1 726.0Z" fill="#D3697A"/>
<path d="M1291.4 734.1L1293.3 730.8L1289.5 730.8Z" fill="#D3697A"/>
<path d="M1316.5 669.6L1318.5 671.6L1316.5 673.5L1314.6 671.6Z" fill="#C88FC9"/>
<path d="M1313.3 671.1L1315.2 673.0L1313.3 675.0L1311.3 673.0Z" fill="#C88FC9"/>
<path d="M1316.5 678.1L1318.5 680.1L1316.5 682.1L1314.6 680.1Z" fill="#C88FC9"/>
<path d="M1316.5 682.1L1318.5 684.1L1316.5 686.0L1314.6 684.1Z" fill="#C88FC9"/>
<path d="M1316.5 686.0L1318.5 687.9L1316.5 689.9L1314.6 687.9Z" fill="#C88FC9"/>
<path d="M1319.8 687.3L1321.7 689.3L1319.8 691.2L1317.8 689.3Z" fill="#C88FC9"/>
<path d="M1316.5 697.7L1318.5 699.7L1316.5 701.6L1314.6 699.7Z" fill="#C88FC9"/>
<path d="M1316.5 707.0L1318.5 708.9L1316.5 710.9L1314.6 708.9Z" fill="#C88FC9"/>
<path d="M1318.1 710.1L1320.1 712.1L1318.1 714.0L1316.2 712.1Z" fill="#C88FC9"/>
<path d="M1316.5 713.6L1318.5 715.6L1316.5 717.6L1314.6 715.6Z" fill="#C88FC9"/>
<path d="M1316.5 717.6L1318.5 719.6L1316.5 721.5L1314.6 719.6Z" fill="#C88FC9"/>
<path d="M1316.5 731.8L1318.5 733.8L1316.5 735.7L1314.6 733.8Z" fill="#C88FC9"/>
<circle cx="1341.7" cy="722.3" r="4.10" fill="#553B94"/>
<circle cx="1349.5" cy="724.5" r="4.10" fill="#553B94"/>
<circle cx="1341.7" cy="740.2" r="4.10" fill="#553B94"/>
<circle cx="1333.9" cy="741.5" r="4.10" fill="#553B94"/>
<circle cx="1341.7" cy="748.4" r="4.10" fill="#553B94"/>
<circle cx="1333.9" cy="751.7" r="4.10" fill="#553B94"/>
<circle cx="1349.5" cy="751.8" r="4.10" fill="#553B94"/>
<circle cx="1341.9" cy="752.6" r="4.10" fill="#553B94"/>
<circle cx="1336.2" cy="753.2" r="4.10" fill="#553B94"/>
<circle cx="1337.1" cy="753.9" r="4.10" fill="#553B94"/>
<circle cx="1341.7" cy="761.1" r="4.10" fill="#553B94"/>
<circle cx="1341.7" cy="770.7" r="4.10" fill="#553B94"/>
<circle cx="1383.7" cy="759.1" r="1.60" fill="#6F9BD2"/>
<circle cx="1383.7" cy="765.3" r="1.60" fill="#6F9BD2"/>
<circle cx="1383.7" cy="770.8" r="1.60" fill="#6F9BD2"/>
<circle cx="1383.7" cy="774.1" r="1.60" fill="#6F9BD2"/>
<circle cx="1386.8" cy="774.8" r="1.60" fill="#6F9BD2"/>
<circle cx="1380.7" cy="775.1" r="1.60" fill="#6F9BD2"/>
<circle cx="1377.6" cy="775.2" r="1.60" fill="#6F9BD2"/>
<circle cx="1383.7" cy="780.3" r="1.60" fill="#6F9BD2"/>
<circle cx="1386.8" cy="780.4" r="1.60" fill="#6F9BD2"/>
<circle cx="1383.7" cy="785.9" r="1.60" fill="#6F9BD2"/>
<circle cx="1386.8" cy="786.5" r="1.60" fill="#6F9BD2"/>
<circle cx="1383.7" cy="798.8" r="1.60" fill="#6F9BD2"/>
<rect x="1407.2" y="632.3" width="3.4" height="3.4" fill="#A6D48A"/>
<rect x="1403.9" y="634.5" width="3.4" height="3.4" fill="#A6D48A"/>
<rect x="1407.2" y="644.3" width="3.4" height="3.4" fill="#A6D48A"/>
<rect x="1410.4" y="647.0" width="3.4" height="3.4" fill="#A6D48A"/>
<rect x="1407.2" y="647.5" width="3.4" height="3.4" fill="#A6D48A"/>
<rect x="1403.9" y="647.6" width="3.4" height="3.4" fill="#A6D48A"/>
<rect x="1413.6" y="649.3" width="3.4" height="3.4" fill="#A6D48A"/>
<rect x="1407.2" y="653.9" width="3.4" height="3.4" fill="#A6D48A"/>
<rect x="1410.4" y="654.9" width="3.4" height="3.4" fill="#A6D48A"/>
<rect x="1403.9" y="655.6" width="3.4" height="3.4" fill="#A6D48A"/>
<rect x="1407.2" y="679.0" width="3.4" height="3.4" fill="#A6D48A"/>
<rect x="1407.2" y="683.8" width="3.4" height="3.4" fill="#A6D48A"/>
<path d="M1434.0 637.3L1436.0 640.8L1432.0 640.8Z" fill="#D9A36E"/>
<path d="M1437.6 637.8L1439.6 641.3L1435.6 641.3Z" fill="#D9A36E"/>
<path d="M1430.4 639.6L1432.4 643.1L1428.4 643.1Z" fill="#D9A36E"/>
<path d="M1434.0 641.0L1436.0 644.5L1432.0 644.5Z" fill="#D9A36E"/>
<path d="M1437.6 643.1L1439.6 646.6L1435.6 646.6Z" fill="#D9A36E"/>
<path d="M1434.0 644.8L1436.0 648.3L1432.0 648.3Z" fill="#D9A36E"/>
<path d="M1434.0 649.2L1436.0 652.8L1432.0 652.8Z" fill="#D9A36E"/>
<path d="M1434.0 653.9L1436.0 657.4L1432.0 657.4Z" fill="#D9A36E"/>
<path d="M1434.0 658.9L1436.0 662.4L1432.0 662.4Z" fill="#D9A36E"/>
<path d="M1434.0 662.8L1436.0 666.3L1432.0 666.3Z" fill="#D9A36E"/>
<path d="M1434.0 675.2L1436.0 678.7L1432.0 678.7Z" fill="#D9A36E"/>
<path d="M1434.0 698.4L1436.0 702.0L1432.0 702.0Z" fill="#D9A36E"/>
<path d="M1459.2 675.5L1461.1 672.2L1457.3 672.2Z" fill="#D3697A"/>
<path d="M1459.2 691.5L1461.1 688.2L1457.3 688.2Z" fill="#D3697A"/>
<path d="M1455.8 691.6L1457.6 688.3L1453.9 688.3Z" fill="#D3697A"/>
<path d="M1462.6 692.5L1464.5 689.2L1460.7 689.2Z" fill="#D3697A"/>
<path d="M1452.3 693.7L1454.2 690.4L1450.4 690.4Z" fill="#D3697A"/>
<path d="M1459.2 698.4L1461.1 695.1L1457.3 695.1Z" fill="#D3697A"/>
<path d="M1455.8 699.1L1457.6 695.8L1453.9 695.8Z" fill="#D3697A"/>
<path d="M1459.2 702.4L1461.1 699.1L1457.3 699.1Z" fill="#D3697A"/>
<path d="M1459.2 706.1L1461.1 702.8L1457.3 702.8Z" fill="#D3697A"/>
<path d="M1459.2 726.1L1461.1 722.7L1457.3 722.7Z" fill="#D3697A"/>
<path d="M1460.9 729.4L1462.8 726.0L1459.0 726.0Z" fill="#D3697A"/>
<path d="M1459.2 745.1L1461.1 741.8L1457.3 741.8Z" fill="#D3697A"/>
<path d="M1484.3 682.7L1486.3 684.6L1484.3 686.6L1482.4 684.6Z" fill="#C88FC9"/>
<path d="M1484.3 686.6L1486.3 688.6L1484.3 690.5L1482.4 688.6Z" fill="#C88FC9"/>
<path d="M1484.3 691.6L1486.3 693.6L1484.3 695.5L1482.4 693.6Z" fill="#C88FC9"/>
<path d="M1487.6 694.2L1489.5 696.2L1487.6 698.1L1485.6 696.2Z" fill="#C88FC9"/>
<path d="M1484.3 697.3L1486.3 699.3L1484.3 701.2L1482.4 699.3Z" fill="#C88FC9"/>
<path d="M1481.1 698.9L1483.0 700.8L1481.1 702.8L1479.1 700.8Z" fill="#C88FC9"/>
<path d="M1484.3 701.5L1486.3 703.4L1484.3 705.4L1482.4 703.4Z" fill="#C88FC9"/>
<path d="M1487.6 702.3L1489.5 704.3L1487.6 706.2L1485.6 704.3Z" fill="#C88FC9"/>
<path d="M1482.7 704.6L1484.7 706.5L1482.7 708.5L1480.8 706.5Z" fill="#C88FC9"/>
<path d="M1485.9 706.5L1487.9 708.5L1485.9 710.4L1484.0 708.5Z" fill="#C88FC9"/>
<path d="M1484.3 711.2L1486.3 713.2L1484.3 715.1L1482.4 713.2Z" fill="#C88FC9"/>
<path d="M1484.3 725.0L1486.3 727.0L1484.3 728.9L1482.4 727.0Z" fill="#C88FC9"/>
<circle cx="1509.5" cy="722.7" r="4.10" fill="#553B94"/>
<circle cx="1509.5" cy="733.4" r="4.10" fill="#553B94"/>
<circle cx="1517.3" cy="736.7" r="4.10" fill="#553B94"/>
<circle cx="1501.7" cy="736.7" r="4.10" fill="#553B94"/>
<circle cx="1512.1" cy="740.6" r="4.10" fill="#553B94"/>
<circle cx="1505.8" cy="741.1" r="4.10" fill="#553B94"/>
<circle cx="1508.2" cy="741.5" r="4.10" fill="#553B94"/>
<circle cx="1510.0" cy="742.1" r="4.10" fill="#553B94"/>
<circle cx="1516.5" cy="742.6" r="4.10" fill="#553B94"/>
<circle cx="1505.4" cy="743.2" r="4.10" fill="#553B94"/>
<circle cx="1509.5" cy="751.9" r="4.10" fill="#553B94"/>
<circle cx="1509.5" cy="762.8" r="4.10" fill="#553B94"/>
<path d="M880.3 770.7V783.4M876.2 770.7H884.5M876.2 783.4H884.5" stroke="#0f1213" stroke-width="1.6" fill="none"/>
<path d="M905.5 676.5V698.3M901.3 676.5H909.6M901.3 698.3H909.6" stroke="#0f1213" stroke-width="1.6" fill="none"/>
<path d="M930.6 675.9V715.2M926.5 675.9H934.8M926.5 715.2H934.8" stroke="#0f1213" stroke-width="1.6" fill="none"/>
<path d="M955.8 731.0V745.1M951.6 731.0H959.9M951.6 745.1H959.9" stroke="#0f1213" stroke-width="1.6" fill="none"/>
<path d="M980.9 731.0V750.0M976.8 731.0H985.1M976.8 750.0H985.1" stroke="#0f1213" stroke-width="1.6" fill="none"/>
<path d="M1006.1 761.6V776.1M1001.9 761.6H1010.2M1001.9 776.1H1010.2" stroke="#0f1213" stroke-width="1.6" fill="none"/>
<path d="M1048.1 769.7V778.8M1044.0 769.7H1052.3M1044.0 778.8H1052.3" stroke="#0f1213" stroke-width="1.6" fill="none"/>
<path d="M1073.3 648.1V695.1M1069.1 648.1H1077.4M1069.1 695.1H1077.4" stroke="#0f1213" stroke-width="1.6" fill="none"/>
<path d="M1098.4 652.7V682.4M1094.3 652.7H1102.6M1094.3 682.4H1102.6" stroke="#0f1213" stroke-width="1.6" fill="none"/>
<path d="M1123.6 709.6V730.4M1119.4 709.6H1127.7M1119.4 730.4H1127.7" stroke="#0f1213" stroke-width="1.6" fill="none"/>
<path d="M1148.7 699.1V731.8M1144.6 699.1H1152.9M1144.6 731.8H1152.9" stroke="#0f1213" stroke-width="1.6" fill="none"/>
<path d="M1173.9 742.5V759.6M1169.7 742.5H1178.0M1169.7 759.6H1178.0" stroke="#0f1213" stroke-width="1.6" fill="none"/>
<path d="M1215.9 764.8V778.9M1211.8 764.8H1220.1M1211.8 778.9H1220.1" stroke="#0f1213" stroke-width="1.6" fill="none"/>
<path d="M1241.1 612.7V655.4M1236.9 612.7H1245.2M1236.9 655.4H1245.2" stroke="#0f1213" stroke-width="1.6" fill="none"/>
<path d="M1266.2 612.7V660.6M1262.1 612.7H1270.4M1262.1 660.6H1270.4" stroke="#0f1213" stroke-width="1.6" fill="none"/>
<path d="M1291.4 685.3V720.6M1287.2 685.3H1295.5M1287.2 720.6H1295.5" stroke="#0f1213" stroke-width="1.6" fill="none"/>
<path d="M1316.5 690.3V721.4M1312.4 690.3H1320.7M1312.4 721.4H1320.7" stroke="#0f1213" stroke-width="1.6" fill="none"/>
<path d="M1341.7 730.7V754.2M1337.5 730.7H1345.8M1337.5 754.2H1345.8" stroke="#0f1213" stroke-width="1.6" fill="none"/>
<path d="M1383.7 766.8V785.6M1379.6 766.8H1387.9M1379.6 785.6H1387.9" stroke="#0f1213" stroke-width="1.6" fill="none"/>
<path d="M1408.9 646.6V669.5M1404.7 646.6H1413.0M1404.7 669.5H1413.0" stroke="#0f1213" stroke-width="1.6" fill="none"/>
<path d="M1434.0 642.8V676.7M1429.9 642.8H1438.2M1429.9 676.7H1438.2" stroke="#0f1213" stroke-width="1.6" fill="none"/>
<path d="M1459.2 678.3V716.6M1455.0 678.3H1463.3M1455.0 716.6H1463.3" stroke="#0f1213" stroke-width="1.6" fill="none"/>
<path d="M1484.3 690.8V717.5M1480.2 690.8H1488.5M1480.2 717.5H1488.5" stroke="#0f1213" stroke-width="1.6" fill="none"/>
<path d="M1509.5 735.4V753.6M1505.3 735.4H1513.6M1505.3 753.6H1513.6" stroke="#0f1213" stroke-width="1.6" fill="none"/>
<line x1="857.0" y1="851.7" x2="1532.7" y2="851.7" stroke="#0f1213" stroke-width="2.8"/>
<line x1="942.7" y1="851.7" x2="942.7" y2="860.7" stroke="#0f1213" stroke-width="2.8"/>
<line x1="1110.5" y1="851.7" x2="1110.5" y2="860.7" stroke="#0f1213" stroke-width="2.8"/>
<line x1="1277.9" y1="851.7" x2="1277.9" y2="860.7" stroke="#0f1213" stroke-width="2.8"/>
<line x1="1445.8" y1="851.7" x2="1445.8" y2="860.7" stroke="#0f1213" stroke-width="2.8"/>
<text x="0" y="0" stroke="#0f1213" stroke-width="0.5" stroke-linejoin="round" style="font-size:24.22px" transform="translate(902.85 659.11) scale(1.029 1)">*</text>
<text x="0" y="0" stroke="#0f1213" stroke-width="0.5" stroke-linejoin="round" style="font-size:22.37px" transform="translate(952.02 711.05) scale(0.883 1)">#</text>
<text x="0" y="0" stroke="#0f1213" stroke-width="0.5" stroke-linejoin="round" style="font-size:20.09px" transform="translate(1005.36 748.15) scale(0.978 1)">&amp;</text>
<text x="0" y="0" stroke="#0f1213" stroke-width="0.5" stroke-linejoin="round" style="font-size:24.22px" transform="translate(1072.55 638.41) scale(1.029 1)">*</text>
<text x="0" y="0" stroke="#0f1213" stroke-width="0.5" stroke-linejoin="round" style="font-size:22.37px" transform="translate(1120.32 690.45) scale(0.883 1)">#</text>
<text x="0" y="0" stroke="#0f1213" stroke-width="0.5" stroke-linejoin="round" style="font-size:20.09px" transform="translate(1168.46 730.45) scale(0.978 1)">&amp;</text>
<text x="0" y="0" stroke="#0f1213" stroke-width="0.5" stroke-linejoin="round" style="font-size:24.22px" transform="translate(1236.35 577.81) scale(1.029 1)">*</text>
<text x="0" y="0" stroke="#0f1213" stroke-width="0.5" stroke-linejoin="round" style="font-size:22.37px" transform="translate(1286.92 674.75) scale(0.883 1)">#</text>
<text x="0" y="0" stroke="#0f1213" stroke-width="0.5" stroke-linejoin="round" style="font-size:20.09px" transform="translate(1335.66 717.05) scale(0.978 1)">&amp;</text>
<text x="0" y="0" stroke="#0f1213" stroke-width="0.5" stroke-linejoin="round" style="font-size:24.22px" transform="translate(1404.25 640.41) scale(1.029 1)">*</text>
<text x="0" y="0" stroke="#0f1213" stroke-width="0.5" stroke-linejoin="round" style="font-size:22.37px" transform="translate(1454.82 653.15) scale(0.883 1)">#</text>
<text x="0" y="0" stroke="#0f1213" stroke-width="0.5" stroke-linejoin="round" style="font-size:20.09px" transform="translate(1503.86 720.15) scale(0.978 1)">&amp;</text>
<text x="938.5" y="890.7" text-anchor="middle">NLRP3</text>
<text x="1088.7" y="890.7" text-anchor="middle">ASC</text>
<text x="1284.7" y="890.7" text-anchor="middle">caspase-1</text>
<text x="1439.3" y="890.7" text-anchor="middle">GSDMD</text>
<circle cx="1551.0" cy="573.7" r="1.50" fill="#6F9BD2"/>
<text x="1585.4" y="582.2">Sham</text>
<rect x="1549.5" y="613.5" width="3.0" height="3.0" fill="#A6D48A"/>
<text x="1585.4" y="623.5">AF</text>
<path d="M1551.0 654.3L1552.9 657.6L1549.1 657.6Z" fill="#D9A36E"/>
<text x="1585.4" y="664.7">AF + PBS</text>
<path d="M1551.0 699.3L1552.9 696.0L1549.1 696.0Z" fill="#D3697A"/>
<text x="1585.4" y="706.0">AF + EVs</text>
<path d="M1551.0 736.7L1553.0 738.7L1551.0 740.7L1549.0 738.7Z" fill="#C88FC9"/>
<text x="1585.4" y="747.2">AF + NC EVs</text>
<circle cx="1551.0" cy="780.0" r="4.20" fill="#553B94"/>
<text x="1585.4" y="788.5">AF + XIST EVs</text>
<text x="0" y="0" font-weight="bold" style="font-size:43.15px" transform="translate(0.26 913.10) scale(0.942 1)">F</text>
<line x1="76.6" y1="933.0" x2="76.6" y2="1236.2" stroke="#0f1213" stroke-width="2.8"/>
<line x1="67.1" y1="934.2" x2="78.0" y2="934.2" stroke="#0f1213" stroke-width="2.5"/>
<text x="64.9" y="941.8" text-anchor="end">2.5</text>
<line x1="67.1" y1="994.3" x2="78.0" y2="994.3" stroke="#0f1213" stroke-width="2.5"/>
<text x="64.9" y="1001.9" text-anchor="end">2.0</text>
<line x1="67.1" y1="1054.4" x2="78.0" y2="1054.4" stroke="#0f1213" stroke-width="2.5"/>
<text x="64.9" y="1062.0" text-anchor="end">1.5</text>
<line x1="67.1" y1="1114.6" x2="78.0" y2="1114.6" stroke="#0f1213" stroke-width="2.5"/>
<text x="64.9" y="1122.2" text-anchor="end">1.0</text>
<line x1="67.1" y1="1174.7" x2="78.0" y2="1174.7" stroke="#0f1213" stroke-width="2.5"/>
<text x="64.9" y="1182.3" text-anchor="end">0.5</text>
<line x1="67.1" y1="1234.8" x2="78.0" y2="1234.8" stroke="#0f1213" stroke-width="2.5"/>
<text x="64.9" y="1242.4" text-anchor="end">0.0</text>
<text x="20.8" y="1083.9" text-anchor="middle" transform="rotate(-90 20.8 1083.9)">Relative protein expression</text>
<path d="M86.65 1234.8V1191.75H95.55V1234.8" stroke="#38598F" stroke-width="3.5" fill="none" stroke-linejoin="miter"/>
<path d="M104.85 1234.8V1114.15H113.75V1234.8" stroke="#568A3E" stroke-width="3.5" fill="none" stroke-linejoin="miter"/>
<path d="M123.05 1234.8V1113.15H131.95V1234.8" stroke="#825327" stroke-width="3.5" fill="none" stroke-linejoin="miter"/>
<path d="M141.25 1234.8V1143.95H150.15V1234.8" stroke="#821A20" stroke-width="3.5" fill="none" stroke-linejoin="miter"/>
<path d="M159.45 1234.8V1148.45H168.35V1234.8" stroke="#8A2D8F" stroke-width="3.5" fill="none" stroke-linejoin="miter"/>
<path d="M177.65 1234.8V1187.75H186.55V1234.8" stroke="#553994" stroke-width="3.5" fill="none" stroke-linejoin="miter"/>
<path d="M208.05 1234.8V1188.15H216.95V1234.8" stroke="#38598F" stroke-width="3.5" fill="none" stroke-linejoin="miter"/>
<path d="M226.25 1234.8V1088.35H235.15V1234.8" stroke="#568A3E" stroke-width="3.5" fill="none" stroke-linejoin="miter"/>
<path d="M244.45 1234.8V1084.85H253.35V1234.8" stroke="#825327" stroke-width="3.5" fill="none" stroke-linejoin="miter"/>
<path d="M262.65 1234.8V1135.25H271.55V1234.8" stroke="#821A20" stroke-width="3.5" fill="none" stroke-linejoin="miter"/>
<path d="M280.85 1234.8V1131.65H289.75V1234.8" stroke="#8A2D8F" stroke-width="3.5" fill="none" stroke-linejoin="miter"/>
<path d="M299.05 1234.8V1176.65H307.95V1234.8" stroke="#553994" stroke-width="3.5" fill="none" stroke-linejoin="miter"/>
<path d="M329.45 1234.8V1165.15H338.35V1234.8" stroke="#38598F" stroke-width="3.5" fill="none" stroke-linejoin="miter"/>
<path d="M347.65 1234.8V1020.95H356.55V1234.8" stroke="#568A3E" stroke-width="3.5" fill="none" stroke-linejoin="miter"/>
<path d="M365.85 1234.8V1029.45H374.75V1234.8" stroke="#825327" stroke-width="3.5" fill="none" stroke-linejoin="miter"/>
<path d="M384.05 1234.8V1074.25H392.95V1234.8" stroke="#821A20" stroke-width="3.5" fill="none" stroke-linejoin="miter"/>
<path d="M402.25 1234.8V1070.35H411.15V1234.8" stroke="#8A2D8F" stroke-width="3.5" fill="none" stroke-linejoin="miter"/>
<path d="M420.45 1234.8V1151.45H429.35V1234.8" stroke="#553994" stroke-width="3.5" fill="none" stroke-linejoin="miter"/>
<path d="M450.85 1234.8V1140.35H459.75V1234.8" stroke="#38598F" stroke-width="3.5" fill="none" stroke-linejoin="miter"/>
<path d="M469.05 1234.8V1019.95H477.95V1234.8" stroke="#568A3E" stroke-width="3.5" fill="none" stroke-linejoin="miter"/>
<path d="M487.25 1234.8V1021.35H496.15V1234.8" stroke="#825327" stroke-width="3.5" fill="none" stroke-linejoin="miter"/>
<path d="M505.45 1234.8V1063.35H514.35V1234.8" stroke="#821A20" stroke-width="3.5" fill="none" stroke-linejoin="miter"/>
<path d="M523.65 1234.8V1057.65H532.55V1234.8" stroke="#8A2D8F" stroke-width="3.5" fill="none" stroke-linejoin="miter"/>
<path d="M541.85 1234.8V1124.25H550.75V1234.8" stroke="#553994" stroke-width="3.5" fill="none" stroke-linejoin="miter"/>
<circle cx="91.1" cy="1184.1" r="1.40" fill="#6F9BD2"/>
<circle cx="93.8" cy="1185.6" r="1.40" fill="#6F9BD2"/>
<circle cx="88.4" cy="1186.1" r="1.40" fill="#6F9BD2"/>
<circle cx="91.1" cy="1187.8" r="1.40" fill="#6F9BD2"/>
<circle cx="93.8" cy="1188.3" r="1.40" fill="#6F9BD2"/>
<circle cx="91.1" cy="1190.7" r="1.40" fill="#6F9BD2"/>
<circle cx="93.8" cy="1192.5" r="1.40" fill="#6F9BD2"/>
<circle cx="88.4" cy="1193.0" r="1.40" fill="#6F9BD2"/>
<circle cx="87.9" cy="1193.0" r="1.40" fill="#6F9BD2"/>
<circle cx="92.0" cy="1193.2" r="1.40" fill="#6F9BD2"/>
<circle cx="93.8" cy="1195.2" r="1.40" fill="#6F9BD2"/>
<circle cx="91.1" cy="1204.4" r="1.40" fill="#6F9BD2"/>
<rect x="107.9" y="1095.5" width="2.8" height="2.8" fill="#A6D48A"/>
<rect x="107.9" y="1102.6" width="2.8" height="2.8" fill="#A6D48A"/>
<rect x="106.6" y="1105.1" width="2.8" height="2.8" fill="#A6D48A"/>
<rect x="109.2" y="1105.5" width="2.8" height="2.8" fill="#A6D48A"/>
<rect x="103.9" y="1106.5" width="2.8" height="2.8" fill="#A6D48A"/>
<rect x="107.9" y="1108.5" width="2.8" height="2.8" fill="#A6D48A"/>
<rect x="107.9" y="1123.0" width="2.8" height="2.8" fill="#A6D48A"/>
<rect x="110.6" y="1123.9" width="2.8" height="2.8" fill="#A6D48A"/>
<rect x="106.6" y="1125.5" width="2.8" height="2.8" fill="#A6D48A"/>
<rect x="103.9" y="1126.2" width="2.8" height="2.8" fill="#A6D48A"/>
<rect x="107.9" y="1127.9" width="2.8" height="2.8" fill="#A6D48A"/>
<rect x="107.9" y="1134.2" width="2.8" height="2.8" fill="#A6D48A"/>
<path d="M127.5 1093.1L129.2 1096.0L125.8 1096.0Z" fill="#D9A36E"/>
<path d="M130.5 1093.9L132.2 1096.9L128.9 1096.9Z" fill="#D9A36E"/>
<path d="M124.5 1095.4L126.1 1098.3L122.8 1098.3Z" fill="#D9A36E"/>
<path d="M127.5 1099.3L129.2 1102.2L125.8 1102.2Z" fill="#D9A36E"/>
<path d="M124.5 1100.5L126.1 1103.5L122.8 1103.5Z" fill="#D9A36E"/>
<path d="M127.5 1103.0L129.2 1106.0L125.8 1106.0Z" fill="#D9A36E"/>
<path d="M130.5 1104.6L132.2 1107.6L128.9 1107.6Z" fill="#D9A36E"/>
<path d="M127.5 1120.8L129.2 1123.7L125.8 1123.7Z" fill="#D9A36E"/>
<path d="M130.5 1122.3L132.2 1125.3L128.9 1125.3Z" fill="#D9A36E"/>
<path d="M127.5 1127.3L129.2 1130.2L125.8 1130.2Z" fill="#D9A36E"/>
<path d="M127.5 1134.2L129.2 1137.1L125.8 1137.1Z" fill="#D9A36E"/>
<path d="M127.5 1140.2L129.2 1143.1L125.8 1143.1Z" fill="#D9A36E"/>
<path d="M145.7 1126.2L147.3 1123.5L144.1 1123.5Z" fill="#D3697A"/>
<path d="M142.8 1127.6L144.4 1124.9L141.3 1124.9Z" fill="#D3697A"/>
<path d="M145.7 1137.6L147.3 1134.8L144.1 1134.8Z" fill="#D3697A"/>
<path d="M148.5 1137.7L150.1 1134.9L147.0 1134.9Z" fill="#D3697A"/>
<path d="M142.8 1138.9L144.4 1136.1L141.3 1136.1Z" fill="#D3697A"/>
<path d="M145.4 1138.9L147.0 1136.2L143.8 1136.2Z" fill="#D3697A"/>
<path d="M147.2 1139.8L148.8 1137.0L145.6 1137.0Z" fill="#D3697A"/>
<path d="M144.3 1141.6L145.8 1138.8L142.7 1138.8Z" fill="#D3697A"/>
<path d="M147.1 1143.6L148.7 1140.8L145.6 1140.8Z" fill="#D3697A"/>
<path d="M144.3 1145.1L145.8 1142.3L142.7 1142.3Z" fill="#D3697A"/>
<path d="M145.7 1151.9L147.3 1149.1L144.1 1149.1Z" fill="#D3697A"/>
<path d="M148.5 1152.1L150.1 1149.3L147.0 1149.3Z" fill="#D3697A"/>
<path d="M163.9 1139.2L165.5 1140.8L163.9 1142.4L162.3 1140.8Z" fill="#C88FC9"/>
<path d="M161.2 1139.4L162.8 1141.1L161.2 1142.7L159.6 1141.1Z" fill="#C88FC9"/>
<path d="M166.6 1139.9L168.2 1141.6L166.6 1143.2L164.9 1141.6Z" fill="#C88FC9"/>
<path d="M163.9 1141.9L165.5 1143.5L163.9 1145.1L162.3 1143.5Z" fill="#C88FC9"/>
<path d="M163.9 1144.7L165.5 1146.3L163.9 1147.9L162.3 1146.3Z" fill="#C88FC9"/>
<path d="M161.2 1145.9L162.8 1147.5L161.2 1149.1L159.6 1147.5Z" fill="#C88FC9"/>
<path d="M166.6 1146.4L168.2 1148.0L166.6 1149.6L164.9 1148.0Z" fill="#C88FC9"/>
<path d="M163.9 1148.2L165.5 1149.8L163.9 1151.4L162.3 1149.8Z" fill="#C88FC9"/>
<path d="M159.9 1148.5L161.5 1150.1L159.9 1151.7L158.3 1150.1Z" fill="#C88FC9"/>
<path d="M163.9 1151.4L165.5 1153.0L163.9 1154.6L162.3 1153.0Z" fill="#C88FC9"/>
<path d="M166.6 1152.5L168.2 1154.1L166.6 1155.8L164.9 1154.1Z" fill="#C88FC9"/>
<path d="M163.9 1157.9L165.5 1159.5L163.9 1161.1L162.3 1159.5Z" fill="#C88FC9"/>
<circle cx="182.1" cy="1174.0" r="3.20" fill="#553B94"/>
<circle cx="184.0" cy="1175.0" r="3.20" fill="#553B94"/>
<circle cx="182.1" cy="1181.1" r="3.20" fill="#553B94"/>
<circle cx="183.8" cy="1181.2" r="3.20" fill="#553B94"/>
<circle cx="182.1" cy="1182.7" r="3.20" fill="#553B94"/>
<circle cx="176.9" cy="1183.7" r="3.20" fill="#553B94"/>
<circle cx="176.7" cy="1184.3" r="3.20" fill="#553B94"/>
<circle cx="176.4" cy="1185.0" r="3.20" fill="#553B94"/>
<circle cx="187.6" cy="1187.7" r="3.20" fill="#553B94"/>
<circle cx="179.1" cy="1189.3" r="3.20" fill="#553B94"/>
<circle cx="178.0" cy="1190.4" r="3.20" fill="#553B94"/>
<circle cx="186.2" cy="1190.5" r="3.20" fill="#553B94"/>
<circle cx="212.5" cy="1178.2" r="1.40" fill="#6F9BD2"/>
<circle cx="209.8" cy="1179.5" r="1.40" fill="#6F9BD2"/>
<circle cx="212.5" cy="1181.0" r="1.40" fill="#6F9BD2"/>
<circle cx="215.2" cy="1181.9" r="1.40" fill="#6F9BD2"/>
<circle cx="212.5" cy="1184.9" r="1.40" fill="#6F9BD2"/>
<circle cx="215.2" cy="1185.3" r="1.40" fill="#6F9BD2"/>
<circle cx="209.8" cy="1186.0" r="1.40" fill="#6F9BD2"/>
<circle cx="212.5" cy="1190.4" r="1.40" fill="#6F9BD2"/>
<circle cx="209.8" cy="1191.4" r="1.40" fill="#6F9BD2"/>
<circle cx="215.2" cy="1191.5" r="1.40" fill="#6F9BD2"/>
<circle cx="212.5" cy="1194.4" r="1.40" fill="#6F9BD2"/>
<circle cx="209.8" cy="1195.1" r="1.40" fill="#6F9BD2"/>
<rect x="229.3" y="1054.6" width="2.8" height="2.8" fill="#A6D48A"/>
<rect x="229.3" y="1070.2" width="2.8" height="2.8" fill="#A6D48A"/>
<rect x="229.3" y="1076.4" width="2.8" height="2.8" fill="#A6D48A"/>
<rect x="232.0" y="1076.6" width="2.8" height="2.8" fill="#A6D48A"/>
<rect x="228.0" y="1078.8" width="2.8" height="2.8" fill="#A6D48A"/>
<rect x="230.6" y="1079.8" width="2.8" height="2.8" fill="#A6D48A"/>
<rect x="229.3" y="1086.0" width="2.8" height="2.8" fill="#A6D48A"/>
<rect x="226.6" y="1087.4" width="2.8" height="2.8" fill="#A6D48A"/>
<rect x="229.3" y="1090.5" width="2.8" height="2.8" fill="#A6D48A"/>
<rect x="229.3" y="1093.5" width="2.8" height="2.8" fill="#A6D48A"/>
<rect x="232.0" y="1095.7" width="2.8" height="2.8" fill="#A6D48A"/>
<rect x="229.3" y="1097.7" width="2.8" height="2.8" fill="#A6D48A"/>
<path d="M248.9 1055.2L250.6 1058.2L247.2 1058.2Z" fill="#D9A36E"/>
<path d="M245.9 1057.8L247.5 1060.7L244.2 1060.7Z" fill="#D9A36E"/>
<path d="M248.9 1058.5L250.6 1061.4L247.2 1061.4Z" fill="#D9A36E"/>
<path d="M251.9 1060.4L253.6 1063.3L250.3 1063.3Z" fill="#D9A36E"/>
<path d="M248.9 1066.5L250.6 1069.5L247.2 1069.5Z" fill="#D9A36E"/>
<path d="M247.4 1069.3L249.1 1072.2L245.7 1072.2Z" fill="#D9A36E"/>
<path d="M250.4 1069.7L252.1 1072.6L248.7 1072.6Z" fill="#D9A36E"/>
<path d="M244.3 1070.6L246.0 1073.5L242.7 1073.5Z" fill="#D9A36E"/>
<path d="M248.9 1096.8L250.6 1099.8L247.2 1099.8Z" fill="#D9A36E"/>
<path d="M248.9 1108.2L250.6 1111.1L247.2 1111.1Z" fill="#D9A36E"/>
<path d="M245.9 1109.0L247.5 1111.9L244.2 1111.9Z" fill="#D9A36E"/>
<path d="M248.9 1121.9L250.6 1124.9L247.2 1124.9Z" fill="#D9A36E"/>
<path d="M267.1 1108.6L268.7 1105.8L265.5 1105.8Z" fill="#D3697A"/>
<path d="M267.1 1123.7L268.7 1120.9L265.5 1120.9Z" fill="#D3697A"/>
<path d="M264.2 1123.9L265.8 1121.1L262.7 1121.1Z" fill="#D3697A"/>
<path d="M270.0 1125.1L271.5 1122.3L268.4 1122.3Z" fill="#D3697A"/>
<path d="M267.1 1127.3L268.7 1124.5L265.5 1124.5Z" fill="#D3697A"/>
<path d="M267.1 1130.9L268.7 1128.1L265.5 1128.1Z" fill="#D3697A"/>
<path d="M270.0 1133.3L271.5 1130.5L268.4 1130.5Z" fill="#D3697A"/>
<path d="M267.1 1138.3L268.7 1135.6L265.5 1135.6Z" fill="#D3697A"/>
<path d="M264.2 1140.2L265.8 1137.4L262.7 1137.4Z" fill="#D3697A"/>
<path d="M267.1 1142.0L268.7 1139.2L265.5 1139.2Z" fill="#D3697A"/>
<path d="M267.1 1146.1L268.7 1143.4L265.5 1143.4Z" fill="#D3697A"/>
<path d="M267.1 1162.2L268.7 1159.4L265.5 1159.4Z" fill="#D3697A"/>
<path d="M285.3 1109.7L286.9 1111.3L285.3 1112.9L283.7 1111.3Z" fill="#C88FC9"/>
<path d="M282.6 1110.1L284.2 1111.7L282.6 1113.3L281.0 1111.7Z" fill="#C88FC9"/>
<path d="M285.3 1118.7L286.9 1120.3L285.3 1121.9L283.7 1120.3Z" fill="#C88FC9"/>
<path d="M282.6 1120.6L284.2 1122.2L282.6 1123.8L281.0 1122.2Z" fill="#C88FC9"/>
<path d="M288.0 1120.6L289.6 1122.2L288.0 1123.9L286.4 1122.2Z" fill="#C88FC9"/>
<path d="M285.3 1131.7L286.9 1133.3L285.3 1134.9L283.7 1133.3Z" fill="#C88FC9"/>
<path d="M282.6 1132.9L284.2 1134.5L282.6 1136.2L281.0 1134.5Z" fill="#C88FC9"/>
<path d="M288.0 1133.9L289.6 1135.5L288.0 1137.1L286.4 1135.5Z" fill="#C88FC9"/>
<path d="M285.3 1135.1L286.9 1136.7L285.3 1138.3L283.7 1136.7Z" fill="#C88FC9"/>
<path d="M284.0 1137.6L285.6 1139.2L284.0 1140.8L282.4 1139.2Z" fill="#C88FC9"/>
<path d="M285.3 1141.4L286.9 1143.0L285.3 1144.7L283.7 1143.0Z" fill="#C88FC9"/>
<path d="M285.3 1145.4L286.9 1147.0L285.3 1148.6L283.7 1147.0Z" fill="#C88FC9"/>
<circle cx="303.5" cy="1154.5" r="3.20" fill="#553B94"/>
<circle cx="306.7" cy="1156.9" r="3.20" fill="#553B94"/>
<circle cx="303.8" cy="1157.9" r="3.20" fill="#553B94"/>
<circle cx="303.5" cy="1165.1" r="3.20" fill="#553B94"/>
<circle cx="304.7" cy="1167.0" r="3.20" fill="#553B94"/>
<circle cx="304.1" cy="1167.5" r="3.20" fill="#553B94"/>
<circle cx="306.9" cy="1168.0" r="3.20" fill="#553B94"/>
<circle cx="309.0" cy="1170.3" r="3.20" fill="#553B94"/>
<circle cx="300.4" cy="1170.5" r="3.20" fill="#553B94"/>
<circle cx="303.5" cy="1178.2" r="3.20" fill="#553B94"/>
<circle cx="306.2" cy="1179.5" r="3.20" fill="#553B94"/>
<circle cx="304.7" cy="1182.7" r="3.20" fill="#553B94"/>
<circle cx="333.9" cy="1152.9" r="1.40" fill="#6F9BD2"/>
<circle cx="331.2" cy="1154.1" r="1.40" fill="#6F9BD2"/>
<circle cx="336.6" cy="1154.2" r="1.40" fill="#6F9BD2"/>
<circle cx="333.9" cy="1156.4" r="1.40" fill="#6F9BD2"/>
<circle cx="333.9" cy="1160.5" r="1.40" fill="#6F9BD2"/>
<circle cx="333.9" cy="1163.6" r="1.40" fill="#6F9BD2"/>
<circle cx="333.9" cy="1172.0" r="1.40" fill="#6F9BD2"/>
<circle cx="331.2" cy="1172.6" r="1.40" fill="#6F9BD2"/>
<circle cx="333.9" cy="1177.6" r="1.40" fill="#6F9BD2"/>
<circle cx="331.2" cy="1177.9" r="1.40" fill="#6F9BD2"/>
<circle cx="336.6" cy="1177.9" r="1.40" fill="#6F9BD2"/>
<circle cx="333.9" cy="1185.4" r="1.40" fill="#6F9BD2"/>
<rect x="350.7" y="979.2" width="2.8" height="2.8" fill="#A6D48A"/>
<rect x="350.7" y="983.3" width="2.8" height="2.8" fill="#A6D48A"/>
<rect x="349.4" y="985.7" width="2.8" height="2.8" fill="#A6D48A"/>
<rect x="350.7" y="1004.2" width="2.8" height="2.8" fill="#A6D48A"/>
<rect x="350.7" y="1009.6" width="2.8" height="2.8" fill="#A6D48A"/>
<rect x="350.7" y="1019.9" width="2.8" height="2.8" fill="#A6D48A"/>
<rect x="350.7" y="1023.5" width="2.8" height="2.8" fill="#A6D48A"/>
<rect x="348.0" y="1025.4" width="2.8" height="2.8" fill="#A6D48A"/>
<rect x="353.4" y="1025.6" width="2.8" height="2.8" fill="#A6D48A"/>
<rect x="350.7" y="1028.7" width="2.8" height="2.8" fill="#A6D48A"/>
<rect x="350.7" y="1034.9" width="2.8" height="2.8" fill="#A6D48A"/>
<rect x="348.0" y="1036.4" width="2.8" height="2.8" fill="#A6D48A"/>
<path d="M370.3 967.7L372.0 970.7L368.6 970.7Z" fill="#D9A36E"/>
<path d="M370.3 991.1L372.0 994.0L368.6 994.0Z" fill="#D9A36E"/>
<path d="M370.3 994.3L372.0 997.3L368.6 997.3Z" fill="#D9A36E"/>
<path d="M370.3 1010.8L372.0 1013.8L368.6 1013.8Z" fill="#D9A36E"/>
<path d="M373.3 1012.7L375.0 1015.7L371.7 1015.7Z" fill="#D9A36E"/>
<path d="M370.3 1017.1L372.0 1020.0L368.6 1020.0Z" fill="#D9A36E"/>
<path d="M370.3 1020.7L372.0 1023.7L368.6 1023.7Z" fill="#D9A36E"/>
<path d="M370.3 1031.7L372.0 1034.6L368.6 1034.6Z" fill="#D9A36E"/>
<path d="M370.3 1050.2L372.0 1053.1L368.6 1053.1Z" fill="#D9A36E"/>
<path d="M370.3 1060.4L372.0 1063.4L368.6 1063.4Z" fill="#D9A36E"/>
<path d="M370.3 1074.8L372.0 1077.7L368.6 1077.7Z" fill="#D9A36E"/>
<path d="M370.3 1079.5L372.0 1082.4L368.6 1082.4Z" fill="#D9A36E"/>
<path d="M388.5 1030.8L390.1 1028.1L386.9 1028.1Z" fill="#D3697A"/>
<path d="M388.5 1040.0L390.1 1037.2L386.9 1037.2Z" fill="#D3697A"/>
<path d="M388.5 1050.3L390.1 1047.5L386.9 1047.5Z" fill="#D3697A"/>
<path d="M388.5 1053.2L390.1 1050.5L386.9 1050.5Z" fill="#D3697A"/>
<path d="M388.5 1058.1L390.1 1055.4L386.9 1055.4Z" fill="#D3697A"/>
<path d="M385.6 1059.3L387.2 1056.5L384.1 1056.5Z" fill="#D3697A"/>
<path d="M388.5 1075.1L390.1 1072.4L386.9 1072.4Z" fill="#D3697A"/>
<path d="M391.4 1075.5L392.9 1072.7L389.8 1072.7Z" fill="#D3697A"/>
<path d="M385.6 1077.2L387.2 1074.4L384.1 1074.4Z" fill="#D3697A"/>
<path d="M388.5 1085.2L390.1 1082.4L386.9 1082.4Z" fill="#D3697A"/>
<path d="M391.4 1086.1L392.9 1083.3L389.8 1083.3Z" fill="#D3697A"/>
<path d="M385.6 1087.1L387.2 1084.4L384.1 1084.4Z" fill="#D3697A"/>
<path d="M406.7 995.7L408.3 997.3L406.7 998.9L405.1 997.3Z" fill="#C88FC9"/>
<path d="M406.7 1015.8L408.3 1017.4L406.7 1019.0L405.1 1017.4Z" fill="#C88FC9"/>
<path d="M406.7 1029.0L408.3 1030.6L406.7 1032.3L405.1 1030.6Z" fill="#C88FC9"/>
<path d="M406.7 1054.6L408.3 1056.2L406.7 1057.8L405.1 1056.2Z" fill="#C88FC9"/>
<path d="M406.7 1058.3L408.3 1059.9L406.7 1061.5L405.1 1059.9Z" fill="#C88FC9"/>
<path d="M406.7 1067.0L408.3 1068.6L406.7 1070.2L405.1 1068.6Z" fill="#C88FC9"/>
<path d="M406.7 1083.3L408.3 1084.9L406.7 1086.5L405.1 1084.9Z" fill="#C88FC9"/>
<path d="M406.7 1087.4L408.3 1089.0L406.7 1090.6L405.1 1089.0Z" fill="#C88FC9"/>
<path d="M404.0 1089.4L405.6 1091.0L404.0 1092.6L402.4 1091.0Z" fill="#C88FC9"/>
<path d="M408.0 1089.8L409.6 1091.5L408.0 1093.1L406.4 1091.5Z" fill="#C88FC9"/>
<path d="M406.7 1106.4L408.3 1108.0L406.7 1109.6L405.1 1108.0Z" fill="#C88FC9"/>
<path d="M406.7 1116.2L408.3 1117.9L406.7 1119.5L405.1 1117.9Z" fill="#C88FC9"/>
<circle cx="424.9" cy="1121.6" r="3.20" fill="#553B94"/>
<circle cx="424.9" cy="1134.8" r="3.20" fill="#553B94"/>
<circle cx="422.1" cy="1137.5" r="3.20" fill="#553B94"/>
<circle cx="424.9" cy="1146.9" r="3.20" fill="#553B94"/>
<circle cx="421.8" cy="1147.1" r="3.20" fill="#553B94"/>
<circle cx="424.7" cy="1149.0" r="3.20" fill="#553B94"/>
<circle cx="420.5" cy="1150.1" r="3.20" fill="#553B94"/>
<circle cx="424.9" cy="1156.6" r="3.20" fill="#553B94"/>
<circle cx="419.2" cy="1159.1" r="3.20" fill="#553B94"/>
<circle cx="427.9" cy="1162.3" r="3.20" fill="#553B94"/>
<circle cx="428.2" cy="1163.5" r="3.20" fill="#553B94"/>
<circle cx="424.9" cy="1173.6" r="3.20" fill="#553B94"/>
<circle cx="455.3" cy="1113.5" r="1.40" fill="#6F9BD2"/>
<circle cx="455.3" cy="1138.8" r="1.40" fill="#6F9BD2"/>
<circle cx="452.6" cy="1139.9" r="1.40" fill="#6F9BD2"/>
<circle cx="458.0" cy="1141.0" r="1.40" fill="#6F9BD2"/>
<circle cx="455.3" cy="1143.2" r="1.40" fill="#6F9BD2"/>
<circle cx="455.3" cy="1146.4" r="1.40" fill="#6F9BD2"/>
<circle cx="455.3" cy="1149.2" r="1.40" fill="#6F9BD2"/>
<circle cx="455.3" cy="1153.8" r="1.40" fill="#6F9BD2"/>
<circle cx="452.6" cy="1155.7" r="1.40" fill="#6F9BD2"/>
<circle cx="456.6" cy="1156.3" r="1.40" fill="#6F9BD2"/>
<circle cx="455.3" cy="1161.7" r="1.40" fill="#6F9BD2"/>
<circle cx="452.6" cy="1163.7" r="1.40" fill="#6F9BD2"/>
<rect x="472.1" y="991.4" width="2.8" height="2.8" fill="#A6D48A"/>
<rect x="472.1" y="1002.6" width="2.8" height="2.8" fill="#A6D48A"/>
<rect x="472.1" y="1017.1" width="2.8" height="2.8" fill="#A6D48A"/>
<rect x="472.1" y="1024.3" width="2.8" height="2.8" fill="#A6D48A"/>
<rect x="472.1" y="1032.7" width="2.8" height="2.8" fill="#A6D48A"/>
<rect x="472.1" y="1038.5" width="2.8" height="2.8" fill="#A6D48A"/>
<rect x="469.4" y="1040.5" width="2.8" height="2.8" fill="#A6D48A"/>
<rect x="474.8" y="1040.6" width="2.8" height="2.8" fill="#A6D48A"/>
<rect x="472.1" y="1042.9" width="2.8" height="2.8" fill="#A6D48A"/>
<rect x="473.4" y="1045.3" width="2.8" height="2.8" fill="#A6D48A"/>
<rect x="472.1" y="1047.7" width="2.8" height="2.8" fill="#A6D48A"/>
<rect x="472.1" y="1076.0" width="2.8" height="2.8" fill="#A6D48A"/>
<path d="M491.7 944.0L493.4 946.9L490.0 946.9Z" fill="#D9A36E"/>
<path d="M491.7 960.5L493.4 963.5L490.0 963.5Z" fill="#D9A36E"/>
<path d="M491.7 978.1L493.4 981.1L490.0 981.1Z" fill="#D9A36E"/>
<path d="M491.7 983.9L493.4 986.9L490.0 986.9Z" fill="#D9A36E"/>
<path d="M491.7 1011.5L493.4 1014.4L490.0 1014.4Z" fill="#D9A36E"/>
<path d="M491.7 1015.1L493.4 1018.1L490.0 1018.1Z" fill="#D9A36E"/>
<path d="M488.7 1015.8L490.3 1018.8L487.0 1018.8Z" fill="#D9A36E"/>
<path d="M494.7 1016.9L496.4 1019.8L493.1 1019.8Z" fill="#D9A36E"/>
<path d="M491.7 1020.6L493.4 1023.6L490.0 1023.6Z" fill="#D9A36E"/>
<path d="M491.7 1026.8L493.4 1029.7L490.0 1029.7Z" fill="#D9A36E"/>
<path d="M491.7 1052.8L493.4 1055.7L490.0 1055.7Z" fill="#D9A36E"/>
<path d="M491.7 1075.8L493.4 1078.8L490.0 1078.8Z" fill="#D9A36E"/>
<path d="M509.9 1039.0L511.5 1036.2L508.3 1036.2Z" fill="#D3697A"/>
<path d="M512.8 1039.3L514.3 1036.5L511.2 1036.5Z" fill="#D3697A"/>
<path d="M509.9 1043.8L511.5 1041.0L508.3 1041.0Z" fill="#D3697A"/>
<path d="M512.8 1044.6L514.3 1041.8L511.2 1041.8Z" fill="#D3697A"/>
<path d="M509.9 1049.2L511.5 1046.4L508.3 1046.4Z" fill="#D3697A"/>
<path d="M509.9 1053.4L511.5 1050.6L508.3 1050.6Z" fill="#D3697A"/>
<path d="M512.8 1054.3L514.3 1051.5L511.2 1051.5Z" fill="#D3697A"/>
<path d="M509.9 1060.1L511.5 1057.3L508.3 1057.3Z" fill="#D3697A"/>
<path d="M509.9 1067.9L511.5 1065.2L508.3 1065.2Z" fill="#D3697A"/>
<path d="M509.9 1074.4L511.5 1071.6L508.3 1071.6Z" fill="#D3697A"/>
<path d="M509.9 1082.3L511.5 1079.5L508.3 1079.5Z" fill="#D3697A"/>
<path d="M509.9 1085.4L511.5 1082.6L508.3 1082.6Z" fill="#D3697A"/>
<path d="M528.1 1036.8L529.7 1038.4L528.1 1040.0L526.5 1038.4Z" fill="#C88FC9"/>
<path d="M528.1 1046.5L529.7 1048.1L528.1 1049.7L526.5 1048.1Z" fill="#C88FC9"/>
<path d="M528.1 1049.4L529.7 1051.0L528.1 1052.6L526.5 1051.0Z" fill="#C88FC9"/>
<path d="M528.1 1055.0L529.7 1056.6L528.1 1058.3L526.5 1056.6Z" fill="#C88FC9"/>
<path d="M530.8 1056.4L532.4 1058.0L530.8 1059.6L529.1 1058.0Z" fill="#C88FC9"/>
<path d="M528.1 1059.5L529.7 1061.1L528.1 1062.7L526.5 1061.1Z" fill="#C88FC9"/>
<path d="M530.8 1060.0L532.4 1061.6L530.8 1063.2L529.1 1061.6Z" fill="#C88FC9"/>
<path d="M528.1 1062.8L529.7 1064.4L528.1 1066.0L526.5 1064.4Z" fill="#C88FC9"/>
<path d="M528.1 1067.5L529.7 1069.1L528.1 1070.7L526.5 1069.1Z" fill="#C88FC9"/>
<path d="M530.8 1069.0L532.4 1070.6L530.8 1072.2L529.1 1070.6Z" fill="#C88FC9"/>
<path d="M528.1 1075.4L529.7 1077.0L528.1 1078.6L526.5 1077.0Z" fill="#C88FC9"/>
<path d="M528.1 1080.1L529.7 1081.7L528.1 1083.3L526.5 1081.7Z" fill="#C88FC9"/>
<circle cx="546.3" cy="1082.3" r="3.20" fill="#553B94"/>
<circle cx="546.3" cy="1097.9" r="3.20" fill="#553B94"/>
<circle cx="546.3" cy="1107.1" r="3.20" fill="#553B94"/>
<circle cx="549.8" cy="1107.6" r="3.20" fill="#553B94"/>
<circle cx="544.6" cy="1108.9" r="3.20" fill="#553B94"/>
<circle cx="544.7" cy="1113.3" r="3.20" fill="#553B94"/>
<circle cx="543.7" cy="1117.0" r="3.20" fill="#553B94"/>
<circle cx="543.2" cy="1117.0" r="3.20" fill="#553B94"/>
<circle cx="546.3" cy="1123.7" r="3.20" fill="#553B94"/>
<circle cx="549.3" cy="1129.1" r="3.20" fill="#553B94"/>
<circle cx="546.3" cy="1146.4" r="3.20" fill="#553B94"/>
<circle cx="551.1" cy="1151.6" r="3.20" fill="#553B94"/>
<path d="M91.1 1183.0V1195.6M87.6 1183.0H94.6M87.6 1195.6H94.6" stroke="#0f1213" stroke-width="1.4" fill="none"/>
<path d="M109.3 1101.3V1121.5M105.8 1101.3H112.8M105.8 1121.5H112.8" stroke="#0f1213" stroke-width="1.4" fill="none"/>
<path d="M127.5 1097.3V1123.5M124.0 1097.3H131.0M124.0 1123.5H131.0" stroke="#0f1213" stroke-width="1.4" fill="none"/>
<path d="M145.7 1132.5V1149.7M142.2 1132.5H149.2M142.2 1149.7H149.2" stroke="#0f1213" stroke-width="1.4" fill="none"/>
<path d="M163.9 1139.6V1151.3M160.4 1139.6H167.4M160.4 1151.3H167.4" stroke="#0f1213" stroke-width="1.4" fill="none"/>
<path d="M182.1 1176.3V1189.0M178.6 1176.3H185.6M178.6 1189.0H185.6" stroke="#0f1213" stroke-width="1.4" fill="none"/>
<path d="M212.5 1180.3V1191.0M209.0 1180.3H216.0M209.0 1191.0H216.0" stroke="#0f1213" stroke-width="1.4" fill="none"/>
<path d="M230.7 1073.0V1097.3M227.2 1073.0H234.2M227.2 1097.3H234.2" stroke="#0f1213" stroke-width="1.4" fill="none"/>
<path d="M248.9 1064.6V1099.3M245.4 1064.6H252.4M245.4 1099.3H252.4" stroke="#0f1213" stroke-width="1.4" fill="none"/>
<path d="M267.1 1120.8V1144.2M263.6 1120.8H270.6M263.6 1144.2H270.6" stroke="#0f1213" stroke-width="1.4" fill="none"/>
<path d="M285.3 1117.4V1140.2M281.8 1117.4H288.8M281.8 1140.2H288.8" stroke="#0f1213" stroke-width="1.4" fill="none"/>
<path d="M303.5 1164.8V1179.9M300.0 1164.8H307.0M300.0 1179.9H307.0" stroke="#0f1213" stroke-width="1.4" fill="none"/>
<path d="M333.9 1150.1V1175.5M330.4 1150.1H337.4M330.4 1175.5H337.4" stroke="#0f1213" stroke-width="1.4" fill="none"/>
<path d="M352.1 990.8V1046.5M348.6 990.8H355.6M348.6 1046.5H355.6" stroke="#0f1213" stroke-width="1.4" fill="none"/>
<path d="M370.3 1002.5V1050.5M366.8 1002.5H373.8M366.8 1050.5H373.8" stroke="#0f1213" stroke-width="1.4" fill="none"/>
<path d="M388.5 1049.9V1093.2M385.0 1049.9H392.0M385.0 1093.2H392.0" stroke="#0f1213" stroke-width="1.4" fill="none"/>
<path d="M406.7 1036.4V1098.7M403.2 1036.4H410.2M403.2 1098.7H410.2" stroke="#0f1213" stroke-width="1.4" fill="none"/>
<path d="M424.9 1135.2V1165.8M421.4 1135.2H428.4M421.4 1165.8H428.4" stroke="#0f1213" stroke-width="1.4" fill="none"/>
<path d="M455.3 1119.0V1156.3M451.8 1119.0H458.8M451.8 1156.3H458.8" stroke="#0f1213" stroke-width="1.4" fill="none"/>
<path d="M473.5 986.0V1049.5M470.0 986.0H477.0M470.0 1049.5H477.0" stroke="#0f1213" stroke-width="1.4" fill="none"/>
<path d="M491.7 988.4V1049.5M488.2 988.4H495.2M488.2 1049.5H495.2" stroke="#0f1213" stroke-width="1.4" fill="none"/>
<path d="M509.9 1046.5V1074.1M506.4 1046.5H513.4M506.4 1074.1H513.4" stroke="#0f1213" stroke-width="1.4" fill="none"/>
<path d="M528.1 1034.8V1075.5M524.6 1034.8H531.6M524.6 1075.5H531.6" stroke="#0f1213" stroke-width="1.4" fill="none"/>
<path d="M546.3 1103.7V1134.6M542.8 1103.7H549.8M542.8 1134.6H549.8" stroke="#0f1213" stroke-width="1.4" fill="none"/>
<line x1="76.0" y1="1234.8" x2="563.2" y2="1234.8" stroke="#0f1213" stroke-width="2.8"/>
<line x1="136.1" y1="1234.8" x2="136.1" y2="1243.8" stroke="#0f1213" stroke-width="2.8"/>
<line x1="258.1" y1="1234.8" x2="258.1" y2="1243.8" stroke="#0f1213" stroke-width="2.8"/>
<line x1="379.2" y1="1234.8" x2="379.2" y2="1243.8" stroke="#0f1213" stroke-width="2.8"/>
<line x1="500.1" y1="1234.8" x2="500.1" y2="1243.8" stroke="#0f1213" stroke-width="2.8"/>
<text x="0" y="0" stroke="#0f1213" stroke-width="0.5" stroke-linejoin="round" style="font-size:21.65px" transform="translate(103.16 1094.15) scale(1.030 1)">*</text>
<text x="0" y="0" stroke="#0f1213" stroke-width="0.5" stroke-linejoin="round" style="font-size:20.06px" transform="translate(138.69 1114.27) scale(0.881 1)">#</text>
<text x="0" y="0" stroke="#0f1213" stroke-width="0.5" stroke-linejoin="round" style="font-size:18.01px" transform="translate(173.46 1160.41) scale(0.977 1)">&amp;</text>
<text x="0" y="0" stroke="#0f1213" stroke-width="0.5" stroke-linejoin="round" style="font-size:21.65px" transform="translate(223.96 1055.55) scale(1.030 1)">*</text>
<text x="0" y="0" stroke="#0f1213" stroke-width="0.5" stroke-linejoin="round" style="font-size:20.06px" transform="translate(259.09 1102.17) scale(0.881 1)">#</text>
<text x="0" y="0" stroke="#0f1213" stroke-width="0.5" stroke-linejoin="round" style="font-size:18.01px" transform="translate(293.76 1150.31) scale(0.977 1)">&amp;</text>
<text x="0" y="0" stroke="#0f1213" stroke-width="0.5" stroke-linejoin="round" style="font-size:21.65px" transform="translate(345.96 977.35) scale(1.030 1)">*</text>
<text x="0" y="0" stroke="#0f1213" stroke-width="0.5" stroke-linejoin="round" style="font-size:20.06px" transform="translate(381.69 1020.47) scale(0.881 1)">#</text>
<text x="0" y="0" stroke="#0f1213" stroke-width="0.5" stroke-linejoin="round" style="font-size:18.01px" transform="translate(415.86 1115.01) scale(0.977 1)">&amp;</text>
<text x="0" y="0" stroke="#0f1213" stroke-width="0.5" stroke-linejoin="round" style="font-size:21.65px" transform="translate(467.96 970.25) scale(1.030 1)">*</text>
<text x="0" y="0" stroke="#0f1213" stroke-width="0.5" stroke-linejoin="round" style="font-size:20.06px" transform="translate(507.09 1032.57) scale(0.881 1)">#</text>
<text x="0" y="0" stroke="#0f1213" stroke-width="0.5" stroke-linejoin="round" style="font-size:18.01px" transform="translate(538.46 1086.81) scale(0.977 1)">&amp;</text>
<text x="149.1" y="1262.0" text-anchor="end" transform="rotate(-45 149.1 1262.0)">NLRP3</text>
<text x="270.1" y="1262.0" text-anchor="end" transform="rotate(-45 270.1 1262.0)">ASC</text>
<text x="388.2" y="1262.0" text-anchor="end" transform="rotate(-45 388.2 1262.0)">cleaved-caspase-1/caspase-1</text>
<text x="514.6" y="1262.0" text-anchor="end" transform="rotate(-45 514.6 1262.0)">cleaved-GSDMD/GSDMD</text>
<circle cx="587.4" cy="1000.8" r="1.50" fill="#6F9BD2"/>
<text x="622.6" y="1009.3">Sham</text>
<rect x="585.9" y="1040.6" width="3.0" height="3.0" fill="#A6D48A"/>
<text x="622.6" y="1050.6">AF</text>
<path d="M587.4 1081.6L589.3 1084.9L585.5 1084.9Z" fill="#D9A36E"/>
<text x="622.6" y="1092.0">AF + PBS</text>
<path d="M587.4 1126.7L589.3 1123.4L585.5 1123.4Z" fill="#D3697A"/>
<text x="622.6" y="1133.3">AF + EVs</text>
<path d="M587.4 1164.2L589.4 1166.2L587.4 1168.2L585.4 1166.2Z" fill="#C88FC9"/>
<text x="622.6" y="1174.7">AF + NC EVs</text>
<circle cx="587.4" cy="1207.5" r="4.20" fill="#553B94"/>
<text x="622.6" y="1216.0">AF + XIST EVs</text>
<text x="0" y="0" font-weight="bold" style="font-size:43.28px" transform="translate(818.37 913.30) scale(0.952 1)">G</text>
<line x1="906.1" y1="933.6" x2="906.1" y2="1237.0" stroke="#0f1213" stroke-width="2.8"/>
<line x1="896.5" y1="934.8" x2="907.5" y2="934.8" stroke="#0f1213" stroke-width="2.5"/>
<text x="894.3" y="942.4" text-anchor="end">4</text>
<line x1="896.5" y1="1010.0" x2="907.5" y2="1010.0" stroke="#0f1213" stroke-width="2.5"/>
<text x="894.3" y="1017.6" text-anchor="end">3</text>
<line x1="896.5" y1="1085.2" x2="907.5" y2="1085.2" stroke="#0f1213" stroke-width="2.5"/>
<text x="894.3" y="1092.8" text-anchor="end">2</text>
<line x1="896.5" y1="1160.4" x2="907.5" y2="1160.4" stroke="#0f1213" stroke-width="2.5"/>
<text x="894.3" y="1168.0" text-anchor="end">1</text>
<line x1="896.5" y1="1235.6" x2="907.5" y2="1235.6" stroke="#0f1213" stroke-width="2.5"/>
<text x="894.3" y="1243.2" text-anchor="end">0</text>
<text x="866.3" y="1085.0" text-anchor="middle" style="font-size:24.6px" transform="rotate(-90 866.3 1085.0)">ng/mL</text>
<path d="M921.35 1235.6V1176.35H936.35V1235.6" stroke="#38598F" stroke-width="3.7" fill="none" stroke-linejoin="miter"/>
<path d="M949.45 1235.6V1040.45H964.45V1235.6" stroke="#568A3E" stroke-width="3.7" fill="none" stroke-linejoin="miter"/>
<path d="M977.55 1235.6V1029.95H992.55V1235.6" stroke="#825327" stroke-width="3.7" fill="none" stroke-linejoin="miter"/>
<path d="M1005.65 1235.6V1107.05H1020.65V1235.6" stroke="#821A20" stroke-width="3.7" fill="none" stroke-linejoin="miter"/>
<path d="M1033.75 1235.6V1115.15H1048.75V1235.6" stroke="#8A2D8F" stroke-width="3.7" fill="none" stroke-linejoin="miter"/>
<path d="M1061.85 1235.6V1153.75H1076.85V1235.6" stroke="#553994" stroke-width="3.7" fill="none" stroke-linejoin="miter"/>
<path d="M1108.75 1235.6V1200.75H1123.75V1235.6" stroke="#38598F" stroke-width="3.7" fill="none" stroke-linejoin="miter"/>
<path d="M1136.85 1235.6V1107.25H1151.85V1235.6" stroke="#568A3E" stroke-width="3.7" fill="none" stroke-linejoin="miter"/>
<path d="M1164.95 1235.6V1112.65H1179.95V1235.6" stroke="#825327" stroke-width="3.7" fill="none" stroke-linejoin="miter"/>
<path d="M1193.05 1235.6V1151.15H1208.05V1235.6" stroke="#821A20" stroke-width="3.7" fill="none" stroke-linejoin="miter"/>
<path d="M1221.15 1235.6V1156.85H1236.15V1235.6" stroke="#8A2D8F" stroke-width="3.7" fill="none" stroke-linejoin="miter"/>
<path d="M1249.25 1235.6V1186.45H1264.25V1235.6" stroke="#553994" stroke-width="3.7" fill="none" stroke-linejoin="miter"/>
<circle cx="928.9" cy="1159.0" r="1.60" fill="#6F9BD2"/>
<circle cx="928.9" cy="1162.0" r="1.60" fill="#6F9BD2"/>
<circle cx="930.4" cy="1164.9" r="1.60" fill="#6F9BD2"/>
<circle cx="927.3" cy="1165.3" r="1.60" fill="#6F9BD2"/>
<circle cx="924.3" cy="1165.9" r="1.60" fill="#6F9BD2"/>
<circle cx="928.9" cy="1168.0" r="1.60" fill="#6F9BD2"/>
<circle cx="931.9" cy="1168.4" r="1.60" fill="#6F9BD2"/>
<circle cx="925.8" cy="1169.3" r="1.60" fill="#6F9BD2"/>
<circle cx="934.9" cy="1171.0" r="1.60" fill="#6F9BD2"/>
<circle cx="928.9" cy="1172.9" r="1.60" fill="#6F9BD2"/>
<circle cx="925.8" cy="1175.4" r="1.60" fill="#6F9BD2"/>
<circle cx="928.9" cy="1176.8" r="1.60" fill="#6F9BD2"/>
<rect x="955.2" y="1012.1" width="3.4" height="3.4" fill="#A6D48A"/>
<rect x="955.2" y="1022.8" width="3.4" height="3.4" fill="#A6D48A"/>
<rect x="952.0" y="1025.3" width="3.4" height="3.4" fill="#A6D48A"/>
<rect x="955.2" y="1031.2" width="3.4" height="3.4" fill="#A6D48A"/>
<rect x="952.0" y="1032.6" width="3.4" height="3.4" fill="#A6D48A"/>
<rect x="955.2" y="1051.0" width="3.4" height="3.4" fill="#A6D48A"/>
<rect x="952.0" y="1051.3" width="3.4" height="3.4" fill="#A6D48A"/>
<rect x="958.5" y="1052.4" width="3.4" height="3.4" fill="#A6D48A"/>
<rect x="955.2" y="1059.3" width="3.4" height="3.4" fill="#A6D48A"/>
<rect x="955.2" y="1063.7" width="3.4" height="3.4" fill="#A6D48A"/>
<rect x="955.2" y="1068.0" width="3.4" height="3.4" fill="#A6D48A"/>
<rect x="955.2" y="1088.5" width="3.4" height="3.4" fill="#A6D48A"/>
<path d="M985.1 1000.4L987.0 1003.9L983.1 1003.9Z" fill="#D9A36E"/>
<path d="M988.7 1000.9L990.7 1004.4L986.7 1004.4Z" fill="#D9A36E"/>
<path d="M985.1 1008.3L987.0 1011.8L983.1 1011.8Z" fill="#D9A36E"/>
<path d="M985.1 1028.9L987.0 1032.4L983.1 1032.4Z" fill="#D9A36E"/>
<path d="M981.4 1029.8L983.4 1033.3L979.4 1033.3Z" fill="#D9A36E"/>
<path d="M986.9 1032.3L988.9 1035.8L984.9 1035.8Z" fill="#D9A36E"/>
<path d="M983.2 1035.3L985.2 1038.8L981.3 1038.8Z" fill="#D9A36E"/>
<path d="M988.7 1035.4L990.7 1039.0L986.7 1039.0Z" fill="#D9A36E"/>
<path d="M985.1 1040.5L987.0 1044.0L983.1 1044.0Z" fill="#D9A36E"/>
<path d="M981.4 1041.3L983.4 1044.8L979.4 1044.8Z" fill="#D9A36E"/>
<path d="M988.7 1041.6L990.7 1045.1L986.7 1045.1Z" fill="#D9A36E"/>
<path d="M985.1 1044.5L987.0 1048.1L983.1 1048.1Z" fill="#D9A36E"/>
<path d="M1013.1 1089.0L1015.0 1085.7L1011.3 1085.7Z" fill="#D3697A"/>
<path d="M1009.7 1090.0L1011.6 1086.7L1007.8 1086.7Z" fill="#D3697A"/>
<path d="M1013.1 1093.5L1015.0 1090.2L1011.3 1090.2Z" fill="#D3697A"/>
<path d="M1016.6 1094.2L1018.5 1090.9L1014.7 1090.9Z" fill="#D3697A"/>
<path d="M1009.7 1095.8L1011.6 1092.5L1007.8 1092.5Z" fill="#D3697A"/>
<path d="M1013.1 1099.1L1015.0 1095.8L1011.3 1095.8Z" fill="#D3697A"/>
<path d="M1013.1 1104.1L1015.0 1100.7L1011.3 1100.7Z" fill="#D3697A"/>
<path d="M1016.6 1106.8L1018.5 1103.5L1014.7 1103.5Z" fill="#D3697A"/>
<path d="M1011.4 1107.4L1013.3 1104.1L1009.5 1104.1Z" fill="#D3697A"/>
<path d="M1008.0 1109.3L1009.9 1106.0L1006.1 1106.0Z" fill="#D3697A"/>
<path d="M1013.1 1111.5L1015.0 1108.2L1011.3 1108.2Z" fill="#D3697A"/>
<path d="M1013.1 1130.4L1015.0 1127.1L1011.3 1127.1Z" fill="#D3697A"/>
<path d="M1041.2 1085.6L1043.2 1087.6L1041.2 1089.5L1039.3 1087.6Z" fill="#C88FC9"/>
<path d="M1041.2 1090.7L1043.2 1092.6L1041.2 1094.6L1039.3 1092.6Z" fill="#C88FC9"/>
<path d="M1044.5 1092.5L1046.4 1094.5L1044.5 1096.4L1042.5 1094.5Z" fill="#C88FC9"/>
<path d="M1038.0 1092.8L1040.0 1094.8L1038.0 1096.7L1036.1 1094.8Z" fill="#C88FC9"/>
<path d="M1041.2 1096.9L1043.2 1098.9L1041.2 1100.8L1039.3 1098.9Z" fill="#C88FC9"/>
<path d="M1041.2 1101.7L1043.2 1103.7L1041.2 1105.6L1039.3 1103.7Z" fill="#C88FC9"/>
<path d="M1038.0 1102.0L1040.0 1104.0L1038.0 1105.9L1036.1 1104.0Z" fill="#C88FC9"/>
<path d="M1042.9 1104.6L1044.8 1106.5L1042.9 1108.5L1040.9 1106.5Z" fill="#C88FC9"/>
<path d="M1041.2 1110.6L1043.2 1112.6L1041.2 1114.5L1039.3 1112.6Z" fill="#C88FC9"/>
<path d="M1041.2 1121.5L1043.2 1123.5L1041.2 1125.4L1039.3 1123.5Z" fill="#C88FC9"/>
<path d="M1041.2 1137.5L1043.2 1139.4L1041.2 1141.4L1039.3 1139.4Z" fill="#C88FC9"/>
<path d="M1044.5 1138.1L1046.4 1140.1L1044.5 1142.0L1042.5 1140.1Z" fill="#C88FC9"/>
<circle cx="1069.3" cy="1130.4" r="3.80" fill="#553B94"/>
<circle cx="1065.7" cy="1136.9" r="3.80" fill="#553B94"/>
<circle cx="1069.3" cy="1145.3" r="3.80" fill="#553B94"/>
<circle cx="1076.6" cy="1150.3" r="3.80" fill="#553B94"/>
<circle cx="1065.7" cy="1151.8" r="3.80" fill="#553B94"/>
<circle cx="1067.0" cy="1152.6" r="3.80" fill="#553B94"/>
<circle cx="1073.6" cy="1153.0" r="3.80" fill="#553B94"/>
<circle cx="1069.3" cy="1161.3" r="3.80" fill="#553B94"/>
<circle cx="1076.6" cy="1163.0" r="3.80" fill="#553B94"/>
<circle cx="1062.1" cy="1166.8" r="3.80" fill="#553B94"/>
<circle cx="1069.3" cy="1172.7" r="3.80" fill="#553B94"/>
<circle cx="1076.6" cy="1174.0" r="3.80" fill="#553B94"/>
<circle cx="1116.2" cy="1196.6" r="1.60" fill="#6F9BD2"/>
<circle cx="1113.2" cy="1196.7" r="1.60" fill="#6F9BD2"/>
<circle cx="1119.3" cy="1196.7" r="1.60" fill="#6F9BD2"/>
<circle cx="1110.2" cy="1196.8" r="1.60" fill="#6F9BD2"/>
<circle cx="1122.3" cy="1199.1" r="1.60" fill="#6F9BD2"/>
<circle cx="1117.8" cy="1199.5" r="1.60" fill="#6F9BD2"/>
<circle cx="1114.7" cy="1199.9" r="1.60" fill="#6F9BD2"/>
<circle cx="1111.7" cy="1200.7" r="1.60" fill="#6F9BD2"/>
<circle cx="1108.7" cy="1200.9" r="1.60" fill="#6F9BD2"/>
<circle cx="1109.2" cy="1200.9" r="1.60" fill="#6F9BD2"/>
<circle cx="1120.8" cy="1202.1" r="1.60" fill="#6F9BD2"/>
<circle cx="1116.2" cy="1205.4" r="1.60" fill="#6F9BD2"/>
<rect x="1142.6" y="1092.5" width="3.4" height="3.4" fill="#A6D48A"/>
<rect x="1142.6" y="1099.7" width="3.4" height="3.4" fill="#A6D48A"/>
<rect x="1145.9" y="1102.2" width="3.4" height="3.4" fill="#A6D48A"/>
<rect x="1142.6" y="1103.3" width="3.4" height="3.4" fill="#A6D48A"/>
<rect x="1139.4" y="1104.1" width="3.4" height="3.4" fill="#A6D48A"/>
<rect x="1136.2" y="1104.3" width="3.4" height="3.4" fill="#A6D48A"/>
<rect x="1142.6" y="1106.9" width="3.4" height="3.4" fill="#A6D48A"/>
<rect x="1145.9" y="1107.1" width="3.4" height="3.4" fill="#A6D48A"/>
<rect x="1142.6" y="1113.6" width="3.4" height="3.4" fill="#A6D48A"/>
<rect x="1142.6" y="1121.1" width="3.4" height="3.4" fill="#A6D48A"/>
<rect x="1145.9" y="1122.0" width="3.4" height="3.4" fill="#A6D48A"/>
<rect x="1142.6" y="1129.2" width="3.4" height="3.4" fill="#A6D48A"/>
<path d="M1172.5 1088.3L1174.4 1091.8L1170.5 1091.8Z" fill="#D9A36E"/>
<path d="M1172.5 1094.1L1174.4 1097.6L1170.5 1097.6Z" fill="#D9A36E"/>
<path d="M1172.5 1101.4L1174.4 1105.0L1170.5 1105.0Z" fill="#D9A36E"/>
<path d="M1176.1 1101.9L1178.1 1105.4L1174.1 1105.4Z" fill="#D9A36E"/>
<path d="M1172.5 1106.0L1174.4 1109.5L1170.5 1109.5Z" fill="#D9A36E"/>
<path d="M1172.5 1110.9L1174.4 1114.4L1170.5 1114.4Z" fill="#D9A36E"/>
<path d="M1168.8 1111.4L1170.8 1114.9L1166.8 1114.9Z" fill="#D9A36E"/>
<path d="M1174.3 1114.3L1176.2 1117.8L1172.3 1117.8Z" fill="#D9A36E"/>
<path d="M1170.6 1114.6L1172.6 1118.1L1168.7 1118.1Z" fill="#D9A36E"/>
<path d="M1167.0 1115.9L1169.0 1119.4L1165.0 1119.4Z" fill="#D9A36E"/>
<path d="M1172.5 1120.1L1174.4 1123.6L1170.5 1123.6Z" fill="#D9A36E"/>
<path d="M1168.8 1121.1L1170.8 1124.6L1166.8 1124.6Z" fill="#D9A36E"/>
<path d="M1200.5 1137.9L1202.4 1134.6L1198.7 1134.6Z" fill="#D3697A"/>
<path d="M1200.5 1141.7L1202.4 1138.3L1198.7 1138.3Z" fill="#D3697A"/>
<path d="M1200.5 1146.6L1202.4 1143.3L1198.7 1143.3Z" fill="#D3697A"/>
<path d="M1204.0 1146.8L1205.9 1143.5L1202.1 1143.5Z" fill="#D3697A"/>
<path d="M1197.1 1148.6L1199.0 1145.3L1195.2 1145.3Z" fill="#D3697A"/>
<path d="M1200.5 1150.9L1202.4 1147.6L1198.7 1147.6Z" fill="#D3697A"/>
<path d="M1204.0 1152.2L1205.9 1148.9L1202.1 1148.9Z" fill="#D3697A"/>
<path d="M1197.1 1153.0L1199.0 1149.6L1195.2 1149.6Z" fill="#D3697A"/>
<path d="M1207.4 1153.3L1209.3 1150.0L1205.5 1150.0Z" fill="#D3697A"/>
<path d="M1200.5 1154.9L1202.4 1151.5L1198.7 1151.5Z" fill="#D3697A"/>
<path d="M1193.7 1155.3L1195.6 1152.0L1191.8 1152.0Z" fill="#D3697A"/>
<path d="M1197.1 1157.0L1199.0 1153.6L1195.2 1153.6Z" fill="#D3697A"/>
<path d="M1228.7 1136.9L1230.6 1138.9L1228.7 1140.8L1226.7 1138.9Z" fill="#C88FC9"/>
<path d="M1228.7 1142.9L1230.6 1144.9L1228.7 1146.8L1226.7 1144.9Z" fill="#C88FC9"/>
<path d="M1228.7 1147.0L1230.6 1148.9L1228.7 1150.9L1226.7 1148.9Z" fill="#C88FC9"/>
<path d="M1225.4 1149.1L1227.4 1151.0L1225.4 1153.0L1223.5 1151.0Z" fill="#C88FC9"/>
<path d="M1231.9 1149.5L1233.8 1151.5L1231.9 1153.4L1229.9 1151.5Z" fill="#C88FC9"/>
<path d="M1222.2 1150.1L1224.1 1152.1L1222.2 1154.0L1220.2 1152.1Z" fill="#C88FC9"/>
<path d="M1228.7 1151.6L1230.6 1153.6L1228.7 1155.6L1226.7 1153.6Z" fill="#C88FC9"/>
<path d="M1228.7 1155.7L1230.6 1157.7L1228.7 1159.6L1226.7 1157.7Z" fill="#C88FC9"/>
<path d="M1231.9 1156.4L1233.8 1158.4L1231.9 1160.3L1229.9 1158.4Z" fill="#C88FC9"/>
<path d="M1225.4 1158.0L1227.4 1160.0L1225.4 1161.9L1223.5 1160.0Z" fill="#C88FC9"/>
<path d="M1228.7 1159.6L1230.6 1161.6L1228.7 1163.5L1226.7 1161.6Z" fill="#C88FC9"/>
<path d="M1231.9 1159.7L1233.8 1161.7L1231.9 1163.6L1229.9 1161.7Z" fill="#C88FC9"/>
<circle cx="1256.8" cy="1178.8" r="3.80" fill="#553B94"/>
<circle cx="1264.0" cy="1179.8" r="3.80" fill="#553B94"/>
<circle cx="1249.5" cy="1179.9" r="3.80" fill="#553B94"/>
<circle cx="1249.0" cy="1180.0" r="3.80" fill="#553B94"/>
<circle cx="1253.5" cy="1180.7" r="3.80" fill="#553B94"/>
<circle cx="1255.6" cy="1180.8" r="3.80" fill="#553B94"/>
<circle cx="1254.2" cy="1181.4" r="3.80" fill="#553B94"/>
<circle cx="1252.2" cy="1182.1" r="3.80" fill="#553B94"/>
<circle cx="1248.2" cy="1183.9" r="3.80" fill="#553B94"/>
<circle cx="1261.0" cy="1184.2" r="3.80" fill="#553B94"/>
<circle cx="1252.5" cy="1186.4" r="3.80" fill="#553B94"/>
<circle cx="1249.3" cy="1188.7" r="3.80" fill="#553B94"/>
<path d="M928.9 1167.3V1179.2M924.4 1167.3H933.4M924.4 1179.2H933.4" stroke="#0f1213" stroke-width="1.6" fill="none"/>
<path d="M957.0 1016.1V1059.7M952.5 1016.1H961.5M952.5 1059.7H961.5" stroke="#0f1213" stroke-width="1.6" fill="none"/>
<path d="M985.1 1002.9V1050.7M980.6 1002.9H989.6M980.6 1050.7H989.6" stroke="#0f1213" stroke-width="1.6" fill="none"/>
<path d="M1013.1 1093.0V1115.8M1008.6 1093.0H1017.6M1008.6 1115.8H1017.6" stroke="#0f1213" stroke-width="1.6" fill="none"/>
<path d="M1041.2 1098.9V1126.1M1036.8 1098.9H1045.8M1036.8 1126.1H1045.8" stroke="#0f1213" stroke-width="1.6" fill="none"/>
<path d="M1069.3 1141.0V1160.4M1064.8 1141.0H1073.8M1064.8 1160.4H1073.8" stroke="#0f1213" stroke-width="1.6" fill="none"/>
<path d="M1116.2 1195.8V1201.8M1111.8 1195.8H1120.8M1111.8 1201.8H1120.8" stroke="#0f1213" stroke-width="1.6" fill="none"/>
<path d="M1144.3 1094.5V1115.9M1139.8 1094.5H1148.8M1139.8 1115.9H1148.8" stroke="#0f1213" stroke-width="1.6" fill="none"/>
<path d="M1172.5 1102.0V1119.0M1168.0 1102.0H1177.0M1168.0 1119.0H1177.0" stroke="#0f1213" stroke-width="1.6" fill="none"/>
<path d="M1200.5 1143.2V1153.8M1196.0 1143.2H1205.0M1196.0 1153.8H1205.0" stroke="#0f1213" stroke-width="1.6" fill="none"/>
<path d="M1228.7 1147.1V1160.4M1224.2 1147.1H1233.2M1224.2 1160.4H1233.2" stroke="#0f1213" stroke-width="1.6" fill="none"/>
<path d="M1256.8 1179.5V1185.6M1252.2 1179.5H1261.2M1252.2 1185.6H1261.2" stroke="#0f1213" stroke-width="1.6" fill="none"/>
<line x1="905.0" y1="1235.6" x2="1281.8" y2="1235.6" stroke="#0f1213" stroke-width="2.8"/>
<line x1="998.4" y1="1235.6" x2="998.4" y2="1244.6" stroke="#0f1213" stroke-width="2.8"/>
<line x1="1186.2" y1="1235.6" x2="1186.2" y2="1244.6" stroke="#0f1213" stroke-width="2.8"/>
<text x="0" y="0" stroke="#0f1213" stroke-width="0.5" stroke-linejoin="round" style="font-size:22.17px" transform="translate(951.96 1005.60) scale(1.030 1)">*</text>
<text x="0" y="0" stroke="#0f1213" stroke-width="0.5" stroke-linejoin="round" style="font-size:20.52px" transform="translate(1008.78 1075.89) scale(0.882 1)">#</text>
<text x="0" y="0" stroke="#0f1213" stroke-width="0.5" stroke-linejoin="round" style="font-size:18.42px" transform="translate(1063.52 1125.00) scale(0.977 1)">&amp;</text>
<text x="0" y="0" stroke="#0f1213" stroke-width="0.5" stroke-linejoin="round" style="font-size:22.17px" transform="translate(1140.56 1077.30) scale(1.030 1)">*</text>
<text x="0" y="0" stroke="#0f1213" stroke-width="0.5" stroke-linejoin="round" style="font-size:20.52px" transform="translate(1195.28 1132.99) scale(0.882 1)">#</text>
<text x="0" y="0" stroke="#0f1213" stroke-width="0.5" stroke-linejoin="round" style="font-size:18.42px" transform="translate(1251.02 1167.40) scale(0.977 1)">&amp;</text>
<text x="1005.0" y="1267.6" text-anchor="middle">IL-1β</text>
<text x="1186.0" y="1268.4" text-anchor="middle">IL-18</text>
<circle cx="1292.8" cy="1000.4" r="1.50" fill="#6F9BD2"/>
<text x="1328.3" y="1008.9">Sham</text>
<rect x="1291.3" y="1040.2" width="3.0" height="3.0" fill="#A6D48A"/>
<text x="1328.3" y="1050.2">AF</text>
<path d="M1292.8 1081.1L1294.7 1084.4L1290.9 1084.4Z" fill="#D9A36E"/>
<text x="1328.3" y="1091.5">AF + PBS</text>
<path d="M1292.8 1126.2L1294.7 1122.9L1290.9 1122.9Z" fill="#D3697A"/>
<text x="1328.3" y="1132.8">AF + EVs</text>
<path d="M1292.8 1163.6L1294.8 1165.6L1292.8 1167.6L1290.8 1165.6Z" fill="#C88FC9"/>
<text x="1328.3" y="1174.1">AF + NC EVs</text>
<circle cx="1292.8" cy="1206.9" r="4.20" fill="#553B94"/>
<text x="1328.3" y="1215.4">AF + XIST EVs</text>
</svg></body></html>
